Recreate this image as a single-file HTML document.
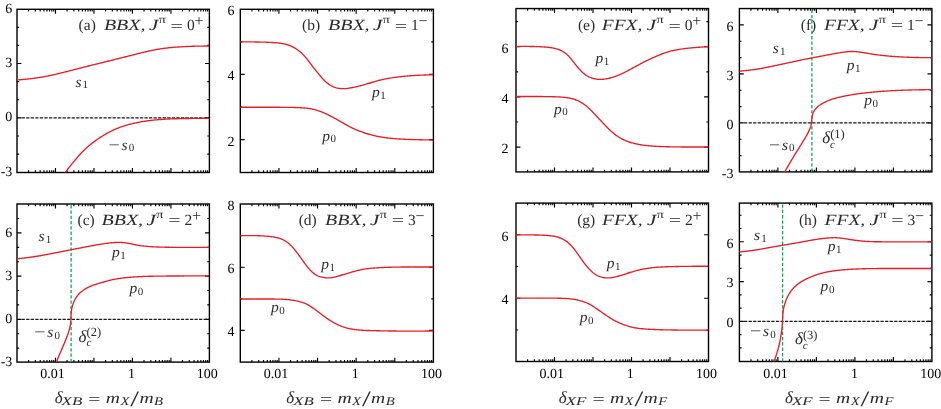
<!DOCTYPE html>
<html lang="en">
<head>
<meta charset="utf-8">
<title>Figure</title>
<style>html,body{margin:0;padding:0;background:#fff}svg{display:block;will-change:transform}</style>
</head>
<body>
<svg width="941" height="409" viewBox="0 0 941 409" font-family='"Liberation Serif", "DejaVu Serif", serif' text-rendering="geometricPrecision">
<rect width="941" height="409" fill="#fff"/>
<defs>
<clipPath id="ka"><rect x="17" y="9.3" width="192.4" height="163.2"/></clipPath>
<clipPath id="kb"><rect x="240.3" y="9.3" width="193.1" height="163.2"/></clipPath>
<clipPath id="ke"><rect x="516" y="8.55" width="192.5" height="163.35"/></clipPath>
<clipPath id="kf"><rect x="739.4" y="8.55" width="192.5" height="163.35"/></clipPath>
<clipPath id="kc"><rect x="17" y="204" width="192.4" height="158.1"/></clipPath>
<clipPath id="kd"><rect x="240.3" y="204" width="193.1" height="158.1"/></clipPath>
<clipPath id="kg"><rect x="516" y="203.1" width="192.5" height="158.4"/></clipPath>
<clipPath id="kh"><rect x="739.4" y="203.1" width="192.5" height="158.4"/></clipPath>
</defs>
<path d="M28.58 172.5L28.58 170.35M28.58 9.3L28.58 11.45M35.36 172.5L35.36 170.35M35.36 9.3L35.36 11.45M40.17 172.5L40.17 170.35M40.17 9.3L40.17 11.45M43.9 172.5L43.9 170.35M43.9 9.3L43.9 11.45M46.94 172.5L46.94 170.35M46.94 9.3L46.94 11.45M49.52 172.5L49.52 170.35M49.52 9.3L49.52 11.45M51.75 172.5L51.75 170.35M51.75 9.3L51.75 11.45M53.72 172.5L53.72 170.35M53.72 9.3L53.72 11.45M55.48 172.5L55.48 168.1M55.48 9.3L55.48 13.7M67.06 172.5L67.06 170.35M67.06 9.3L67.06 11.45M73.84 172.5L73.84 170.35M73.84 9.3L73.84 11.45M78.65 172.5L78.65 170.35M78.65 9.3L78.65 11.45M82.38 172.5L82.38 170.35M82.38 9.3L82.38 11.45M85.42 172.5L85.42 170.35M85.42 9.3L85.42 11.45M88 172.5L88 170.35M88 9.3L88 11.45M90.23 172.5L90.23 170.35M90.23 9.3L90.23 11.45M92.2 172.5L92.2 170.35M92.2 9.3L92.2 11.45M93.96 172.5L93.96 168.1M93.96 9.3L93.96 13.7M105.54 172.5L105.54 170.35M105.54 9.3L105.54 11.45M112.32 172.5L112.32 170.35M112.32 9.3L112.32 11.45M117.13 172.5L117.13 170.35M117.13 9.3L117.13 11.45M120.86 172.5L120.86 170.35M120.86 9.3L120.86 11.45M123.9 172.5L123.9 170.35M123.9 9.3L123.9 11.45M126.48 172.5L126.48 170.35M126.48 9.3L126.48 11.45M128.71 172.5L128.71 170.35M128.71 9.3L128.71 11.45M130.68 172.5L130.68 170.35M130.68 9.3L130.68 11.45M132.44 172.5L132.44 168.1M132.44 9.3L132.44 13.7M144.02 172.5L144.02 170.35M144.02 9.3L144.02 11.45M150.8 172.5L150.8 170.35M150.8 9.3L150.8 11.45M155.61 172.5L155.61 170.35M155.61 9.3L155.61 11.45M159.34 172.5L159.34 170.35M159.34 9.3L159.34 11.45M162.38 172.5L162.38 170.35M162.38 9.3L162.38 11.45M164.96 172.5L164.96 170.35M164.96 9.3L164.96 11.45M167.19 172.5L167.19 170.35M167.19 9.3L167.19 11.45M169.16 172.5L169.16 170.35M169.16 9.3L169.16 11.45M170.92 172.5L170.92 168.1M170.92 9.3L170.92 13.7M182.5 172.5L182.5 170.35M182.5 9.3L182.5 11.45M189.28 172.5L189.28 170.35M189.28 9.3L189.28 11.45M194.09 172.5L194.09 170.35M194.09 9.3L194.09 11.45M197.82 172.5L197.82 170.35M197.82 9.3L197.82 11.45M200.86 172.5L200.86 170.35M200.86 9.3L200.86 11.45M203.44 172.5L203.44 170.35M203.44 9.3L203.44 11.45M205.67 172.5L205.67 170.35M205.67 9.3L205.67 11.45M207.64 172.5L207.64 170.35M207.64 9.3L207.64 11.45M17 63.53L21.4 63.53M209.4 63.53L205 63.53M17 117.86L21.4 117.86M209.4 117.86L205 117.86M17 154.08L19.15 154.08M209.4 154.08L207.25 154.08M17 135.97L19.15 135.97M209.4 135.97L207.25 135.97M17 117.86L19.15 117.86M209.4 117.86L207.25 117.86M17 99.75L19.15 99.75M209.4 99.75L207.25 99.75M17 81.64L19.15 81.64M209.4 81.64L207.25 81.64M17 63.53L19.15 63.53M209.4 63.53L207.25 63.53M17 45.42L19.15 45.42M209.4 45.42L207.25 45.42M17 27.31L19.15 27.31M209.4 27.31L207.25 27.31" stroke="#000" stroke-width="1.15" fill="none"/>
<rect x="17" y="9.3" width="192.4" height="163.2" fill="none" stroke="#000" stroke-width="1.4"/>
<text x="12.3" y="12.8" font-size="14" text-anchor="end" fill="#000">6</text>
<text x="12.3" y="67.13" font-size="14" text-anchor="end" fill="#000">3</text>
<text x="12.3" y="121.46" font-size="14" text-anchor="end" fill="#000">0</text>
<text x="12.3" y="175.79" font-size="14" text-anchor="end" fill="#000">-3</text>
<path d="M21.6 117.86H209.4" stroke="#1a1a1a" stroke-width="1.25" stroke-dasharray="3.3 1.25" fill="none"/>
<path d="M17.00 80.00 L17.83 79.93 L18.66 79.86 L19.48 79.78 L20.31 79.71 L21.14 79.64 L21.97 79.56 L22.80 79.49 L23.62 79.41 L24.45 79.33 L25.28 79.25 L26.10 79.17 L26.93 79.09 L27.76 79.00 L28.58 78.92 L29.41 78.83 L30.24 78.74 L31.06 78.64 L31.89 78.55 L32.71 78.45 L33.53 78.34 L34.36 78.24 L35.18 78.13 L36.00 78.02 L36.82 77.90 L37.65 77.78 L38.47 77.65 L39.29 77.53 L40.11 77.39 L40.93 77.26 L41.74 77.12 L42.56 76.98 L43.38 76.83 L44.20 76.68 L45.01 76.53 L45.83 76.37 L46.65 76.21 L47.46 76.05 L48.28 75.89 L49.09 75.72 L49.90 75.55 L50.72 75.38 L51.53 75.20 L52.34 75.02 L53.15 74.84 L53.96 74.66 L54.77 74.48 L55.58 74.29 L56.39 74.10 L57.20 73.91 L58.01 73.72 L58.82 73.53 L59.63 73.33 L60.43 73.14 L61.24 72.94 L62.05 72.74 L62.85 72.54 L63.66 72.34 L64.47 72.13 L65.27 71.93 L66.08 71.73 L66.88 71.52 L67.69 71.32 L68.49 71.11 L69.29 70.90 L70.10 70.69 L70.90 70.49 L71.71 70.28 L72.51 70.07 L73.31 69.86 L74.12 69.65 L74.92 69.45 L75.73 69.24 L76.53 69.03 L77.34 68.82 L78.14 68.62 L78.94 68.41 L79.75 68.21 L80.55 68.00 L81.36 67.80 L82.16 67.59 L82.97 67.39 L83.78 67.19 L84.58 66.99 L85.39 66.78 L86.19 66.58 L87.00 66.38 L87.80 66.18 L88.61 65.98 L89.42 65.78 L90.22 65.58 L91.03 65.38 L91.84 65.18 L92.64 64.99 L93.45 64.79 L94.26 64.59 L95.06 64.39 L95.87 64.19 L96.68 63.99 L97.48 63.80 L98.29 63.60 L99.10 63.40 L99.90 63.20 L100.71 63.01 L101.52 62.81 L102.32 62.61 L103.13 62.41 L103.94 62.21 L104.74 62.02 L105.55 61.82 L106.36 61.62 L107.16 61.42 L107.97 61.22 L108.78 61.02 L109.58 60.83 L110.39 60.63 L111.20 60.43 L112.00 60.23 L112.81 60.03 L113.61 59.83 L114.42 59.63 L115.23 59.42 L116.03 59.22 L116.84 59.02 L117.64 58.82 L118.45 58.62 L119.25 58.41 L120.06 58.21 L120.86 58.00 L121.67 57.80 L122.47 57.60 L123.28 57.39 L124.08 57.18 L124.89 56.98 L125.69 56.77 L126.50 56.57 L127.30 56.36 L128.10 56.15 L128.91 55.95 L129.71 55.74 L130.52 55.54 L131.32 55.33 L132.13 55.13 L132.93 54.92 L133.74 54.72 L134.54 54.51 L135.35 54.31 L136.15 54.11 L136.96 53.90 L137.77 53.70 L138.57 53.50 L139.38 53.30 L140.19 53.10 L140.99 52.91 L141.80 52.71 L142.61 52.51 L143.42 52.32 L144.23 52.13 L145.04 51.93 L145.85 51.74 L146.65 51.56 L147.47 51.37 L148.28 51.19 L149.09 51.01 L149.90 50.83 L150.71 50.66 L151.52 50.48 L152.34 50.32 L153.15 50.15 L153.97 49.99 L154.78 49.83 L155.60 49.67 L156.41 49.52 L157.23 49.38 L158.05 49.23 L158.87 49.09 L159.69 48.96 L160.51 48.83 L161.33 48.70 L162.15 48.58 L162.97 48.47 L163.79 48.36 L164.62 48.25 L165.44 48.15 L166.27 48.05 L167.09 47.96 L167.92 47.87 L168.74 47.78 L169.57 47.69 L170.40 47.61 L171.23 47.54 L172.05 47.46 L172.88 47.39 L173.71 47.32 L174.54 47.26 L175.37 47.19 L176.20 47.13 L177.03 47.07 L177.86 47.02 L178.68 46.96 L179.51 46.91 L180.34 46.86 L181.17 46.81 L182.00 46.76 L182.83 46.71 L183.66 46.67 L184.49 46.62 L185.32 46.58 L186.15 46.54 L186.98 46.50 L187.81 46.46 L188.64 46.42 L189.47 46.39 L190.30 46.36 L191.13 46.32 L191.96 46.29 L192.79 46.27 L193.62 46.24 L194.45 46.22 L195.28 46.19 L196.11 46.17 L196.94 46.15 L197.77 46.14 L198.60 46.12 L199.43 46.10 L200.26 46.09 L201.09 46.08 L201.92 46.07 L202.75 46.06 L203.59 46.05 L204.42 46.04 L205.25 46.03 L206.08 46.03 L206.91 46.02 L207.74 46.01 L208.57 46.01 L209.40 46.00" fill="none" stroke="#ee1c25" stroke-width="1.35" stroke-linejoin="round" clip-path="url(#ka)"/>
<path d="M63.00 176.00 L63.46 175.31 L63.93 174.62 L64.40 173.93 L64.87 173.24 L65.34 172.56 L65.82 171.88 L66.30 171.20 L66.79 170.53 L67.29 169.86 L67.78 169.19 L68.28 168.53 L68.79 167.87 L69.30 167.21 L69.81 166.55 L70.33 165.90 L70.85 165.25 L71.37 164.60 L71.89 163.95 L72.42 163.31 L72.95 162.67 L73.48 162.02 L74.01 161.38 L74.55 160.74 L75.08 160.10 L75.62 159.47 L76.16 158.83 L76.70 158.20 L77.24 157.56 L77.79 156.93 L78.34 156.31 L78.89 155.68 L79.45 155.06 L80.00 154.44 L80.57 153.83 L81.13 153.22 L81.70 152.62 L82.28 152.01 L82.86 151.42 L83.44 150.83 L84.04 150.24 L84.63 149.66 L85.23 149.09 L85.84 148.52 L86.45 147.96 L87.07 147.40 L87.70 146.85 L88.33 146.31 L88.96 145.77 L89.60 145.24 L90.24 144.71 L90.89 144.18 L91.54 143.67 L92.20 143.15 L92.86 142.65 L93.53 142.14 L94.20 141.64 L94.87 141.15 L95.55 140.66 L96.22 140.18 L96.91 139.70 L97.59 139.22 L98.28 138.75 L98.97 138.28 L99.67 137.82 L100.37 137.36 L101.07 136.91 L101.77 136.46 L102.47 136.01 L103.18 135.57 L103.89 135.14 L104.61 134.71 L105.33 134.28 L106.05 133.86 L106.77 133.45 L107.50 133.05 L108.23 132.64 L108.96 132.25 L109.70 131.86 L110.44 131.48 L111.18 131.11 L111.93 130.74 L112.68 130.38 L113.43 130.03 L114.19 129.69 L114.95 129.35 L115.71 129.02 L116.48 128.70 L117.25 128.39 L118.03 128.08 L118.80 127.78 L119.58 127.49 L120.37 127.20 L121.15 126.92 L121.94 126.65 L122.73 126.38 L123.52 126.12 L124.31 125.87 L125.11 125.62 L125.91 125.38 L126.71 125.14 L127.51 124.91 L128.31 124.69 L129.12 124.47 L129.92 124.25 L130.73 124.04 L131.54 123.84 L132.34 123.64 L133.15 123.45 L133.97 123.26 L134.78 123.08 L135.59 122.90 L136.41 122.73 L137.22 122.56 L138.04 122.40 L138.86 122.24 L139.67 122.08 L140.49 121.93 L141.31 121.79 L142.13 121.65 L142.95 121.51 L143.78 121.38 L144.60 121.25 L145.42 121.13 L146.25 121.01 L147.07 120.90 L147.90 120.79 L148.72 120.68 L149.55 120.57 L150.37 120.47 L151.20 120.38 L152.03 120.29 L152.86 120.20 L153.68 120.11 L154.51 120.03 L155.34 119.95 L156.17 119.87 L157.00 119.80 L157.83 119.72 L158.66 119.66 L159.49 119.59 L160.32 119.53 L161.15 119.47 L161.98 119.41 L162.81 119.35 L163.64 119.30 L164.47 119.25 L165.30 119.20 L166.13 119.15 L166.96 119.11 L167.80 119.07 L168.63 119.03 L169.46 118.99 L170.29 118.95 L171.12 118.92 L171.95 118.88 L172.78 118.85 L173.62 118.82 L174.45 118.79 L175.28 118.76 L176.11 118.74 L176.94 118.71 L177.78 118.69 L178.61 118.67 L179.44 118.64 L180.27 118.62 L181.10 118.60 L181.94 118.59 L182.77 118.57 L183.60 118.55 L184.43 118.54 L185.27 118.52 L186.10 118.51 L186.93 118.49 L187.76 118.48 L188.59 118.47 L189.43 118.45 L190.26 118.44 L191.09 118.43 L191.92 118.42 L192.75 118.41 L193.59 118.40 L194.42 118.40 L195.25 118.39 L196.08 118.38 L196.92 118.37 L197.75 118.37 L198.58 118.36 L199.41 118.35 L200.25 118.35 L201.08 118.34 L201.91 118.34 L202.74 118.33 L203.57 118.33 L204.41 118.32 L205.24 118.32 L206.07 118.32 L206.90 118.31 L207.74 118.31 L208.57 118.30 L209.40 118.30" fill="none" stroke="#ee1c25" stroke-width="1.35" stroke-linejoin="round" clip-path="url(#ka)"/>
<text x="78.6" y="30.3" font-size="15.5" text-anchor="start" fill="#2b2b2b">(a)</text>
<text x="103.9" y="30.3" font-size="15.5" font-style="italic" text-anchor="start" fill="#2b2b2b" textLength="41.6" lengthAdjust="spacingAndGlyphs">BBX,</text>
<text x="148.9" y="30.3" font-size="15.5" font-style="italic" text-anchor="start" fill="#2b2b2b" textLength="9.4" lengthAdjust="spacingAndGlyphs">J</text>
<text x="158.7" y="23.1" font-size="11.5" text-anchor="start" fill="#2b2b2b" textLength="7.2" lengthAdjust="spacingAndGlyphs">π</text>
<text x="170.6" y="30.7" font-size="15.5" text-anchor="start" fill="#2b2b2b" textLength="12.4" lengthAdjust="spacingAndGlyphs">=</text>
<text x="186.9" y="30.3" font-size="15.5" text-anchor="start" fill="#2b2b2b">0</text>
<text x="194.4" y="26.3" font-size="16" text-anchor="start" fill="#2b2b2b">+</text>
<text x="75.4" y="86.6" font-size="15.5" font-style="italic" text-anchor="start" fill="#2b2b2b">s</text>
<text x="82.6" y="88.4" font-size="11" text-anchor="start" fill="#2b2b2b">1</text>
<text x="108.6" y="149.5" font-size="15.5" text-anchor="start" fill="#2b2b2b" textLength="11.3" lengthAdjust="spacingAndGlyphs">−</text>
<text x="121.5" y="149.5" font-size="15.5" font-style="italic" text-anchor="start" fill="#2b2b2b">s</text>
<text x="128.7" y="151.3" font-size="11" text-anchor="start" fill="#2b2b2b">0</text>
<path d="M251.93 172.5L251.93 170.35M251.93 9.3L251.93 11.45M258.73 172.5L258.73 170.35M258.73 9.3L258.73 11.45M263.55 172.5L263.55 170.35M263.55 9.3L263.55 11.45M267.29 172.5L267.29 170.35M267.29 9.3L267.29 11.45M270.35 172.5L270.35 170.35M270.35 9.3L270.35 11.45M272.94 172.5L272.94 170.35M272.94 9.3L272.94 11.45M275.18 172.5L275.18 170.35M275.18 9.3L275.18 11.45M277.15 172.5L277.15 170.35M277.15 9.3L277.15 11.45M278.92 172.5L278.92 168.1M278.92 9.3L278.92 13.7M290.55 172.5L290.55 170.35M290.55 9.3L290.55 11.45M297.35 172.5L297.35 170.35M297.35 9.3L297.35 11.45M302.17 172.5L302.17 170.35M302.17 9.3L302.17 11.45M305.91 172.5L305.91 170.35M305.91 9.3L305.91 11.45M308.97 172.5L308.97 170.35M308.97 9.3L308.97 11.45M311.56 172.5L311.56 170.35M311.56 9.3L311.56 11.45M313.8 172.5L313.8 170.35M313.8 9.3L313.8 11.45M315.77 172.5L315.77 170.35M315.77 9.3L315.77 11.45M317.54 172.5L317.54 168.1M317.54 9.3L317.54 13.7M329.17 172.5L329.17 170.35M329.17 9.3L329.17 11.45M335.97 172.5L335.97 170.35M335.97 9.3L335.97 11.45M340.79 172.5L340.79 170.35M340.79 9.3L340.79 11.45M344.53 172.5L344.53 170.35M344.53 9.3L344.53 11.45M347.59 172.5L347.59 170.35M347.59 9.3L347.59 11.45M350.18 172.5L350.18 170.35M350.18 9.3L350.18 11.45M352.42 172.5L352.42 170.35M352.42 9.3L352.42 11.45M354.39 172.5L354.39 170.35M354.39 9.3L354.39 11.45M356.16 172.5L356.16 168.1M356.16 9.3L356.16 13.7M367.79 172.5L367.79 170.35M367.79 9.3L367.79 11.45M374.59 172.5L374.59 170.35M374.59 9.3L374.59 11.45M379.41 172.5L379.41 170.35M379.41 9.3L379.41 11.45M383.15 172.5L383.15 170.35M383.15 9.3L383.15 11.45M386.21 172.5L386.21 170.35M386.21 9.3L386.21 11.45M388.8 172.5L388.8 170.35M388.8 9.3L388.8 11.45M391.04 172.5L391.04 170.35M391.04 9.3L391.04 11.45M393.01 172.5L393.01 170.35M393.01 9.3L393.01 11.45M394.78 172.5L394.78 168.1M394.78 9.3L394.78 13.7M406.41 172.5L406.41 170.35M406.41 9.3L406.41 11.45M413.21 172.5L413.21 170.35M413.21 9.3L413.21 11.45M418.03 172.5L418.03 170.35M418.03 9.3L418.03 11.45M421.77 172.5L421.77 170.35M421.77 9.3L421.77 11.45M424.83 172.5L424.83 170.35M424.83 9.3L424.83 11.45M427.42 172.5L427.42 170.35M427.42 9.3L427.42 11.45M429.66 172.5L429.66 170.35M429.66 9.3L429.66 11.45M431.63 172.5L431.63 170.35M431.63 9.3L431.63 11.45M240.3 74.4L244.7 74.4M433.4 74.4L429 74.4M240.3 139.6L244.7 139.6M433.4 139.6L429 139.6M240.3 139.6L242.45 139.6M433.4 139.6L431.25 139.6M240.3 107L242.45 107M433.4 107L431.25 107M240.3 74.4L242.45 74.4M433.4 74.4L431.25 74.4M240.3 41.8L242.45 41.8M433.4 41.8L431.25 41.8" stroke="#000" stroke-width="1.15" fill="none"/>
<rect x="240.3" y="9.3" width="193.1" height="163.2" fill="none" stroke="#000" stroke-width="1.4"/>
<text x="234.6" y="15.1" font-size="14" text-anchor="end" fill="#000">6</text>
<text x="234.6" y="80.3" font-size="14" text-anchor="end" fill="#000">4</text>
<text x="234.6" y="145.5" font-size="14" text-anchor="end" fill="#000">2</text>
<path d="M240.00 41.85 L240.83 41.85 L241.67 41.86 L242.50 41.86 L243.33 41.87 L244.17 41.87 L245.00 41.88 L245.83 41.88 L246.67 41.89 L247.50 41.89 L248.33 41.90 L249.17 41.90 L250.00 41.91 L250.83 41.92 L251.67 41.93 L252.50 41.94 L253.33 41.94 L254.16 41.95 L255.00 41.97 L255.83 41.98 L256.66 41.99 L257.50 42.00 L258.33 42.02 L259.16 42.03 L259.99 42.05 L260.83 42.07 L261.66 42.09 L262.49 42.11 L263.32 42.13 L264.15 42.15 L264.99 42.18 L265.82 42.20 L266.65 42.23 L267.48 42.27 L268.31 42.30 L269.15 42.34 L269.98 42.38 L270.81 42.43 L271.64 42.48 L272.47 42.53 L273.31 42.59 L274.14 42.65 L274.97 42.72 L275.80 42.79 L276.63 42.86 L277.47 42.95 L278.30 43.03 L279.13 43.13 L279.96 43.23 L280.79 43.34 L281.61 43.46 L282.44 43.60 L283.26 43.75 L284.07 43.91 L284.89 44.09 L285.70 44.28 L286.50 44.50 L287.30 44.73 L288.09 44.98 L288.88 45.26 L289.66 45.55 L290.44 45.86 L291.21 46.19 L291.97 46.54 L292.72 46.91 L293.46 47.29 L294.19 47.69 L294.92 48.11 L295.63 48.54 L296.34 48.99 L297.03 49.46 L297.72 49.94 L298.39 50.44 L299.05 50.95 L299.70 51.47 L300.34 52.01 L300.97 52.55 L301.59 53.12 L302.20 53.69 L302.80 54.27 L303.38 54.87 L303.96 55.47 L304.52 56.09 L305.07 56.71 L305.61 57.34 L306.15 57.98 L306.67 58.63 L307.19 59.28 L307.71 59.93 L308.22 60.60 L308.72 61.26 L309.22 61.92 L309.72 62.59 L310.22 63.26 L310.72 63.93 L311.22 64.60 L311.72 65.26 L312.22 65.93 L312.73 66.59 L313.24 67.25 L313.75 67.90 L314.26 68.56 L314.78 69.21 L315.30 69.86 L315.82 70.51 L316.34 71.16 L316.87 71.80 L317.39 72.45 L317.92 73.09 L318.46 73.74 L318.99 74.38 L319.53 75.02 L320.06 75.66 L320.61 76.30 L321.15 76.94 L321.70 77.57 L322.25 78.20 L322.81 78.82 L323.38 79.44 L323.95 80.04 L324.54 80.64 L325.13 81.22 L325.74 81.79 L326.36 82.35 L326.99 82.89 L327.64 83.41 L328.31 83.91 L328.99 84.39 L329.69 84.84 L330.41 85.28 L331.14 85.69 L331.88 86.08 L332.64 86.44 L333.40 86.78 L334.18 87.10 L334.97 87.38 L335.77 87.64 L336.57 87.87 L337.38 88.07 L338.20 88.24 L339.03 88.39 L339.85 88.51 L340.68 88.60 L341.51 88.66 L342.35 88.69 L343.18 88.70 L344.01 88.69 L344.84 88.65 L345.68 88.59 L346.51 88.51 L347.33 88.41 L348.16 88.30 L348.99 88.17 L349.81 88.04 L350.64 87.90 L351.46 87.75 L352.28 87.59 L353.10 87.43 L353.92 87.27 L354.73 87.09 L355.55 86.92 L356.36 86.74 L357.17 86.55 L357.98 86.36 L358.79 86.16 L359.60 85.96 L360.41 85.75 L361.21 85.54 L362.02 85.33 L362.82 85.11 L363.62 84.88 L364.42 84.65 L365.22 84.42 L366.02 84.19 L366.82 83.95 L367.62 83.71 L368.42 83.47 L369.21 83.23 L370.01 82.99 L370.81 82.75 L371.61 82.51 L372.41 82.27 L373.20 82.03 L374.00 81.79 L374.80 81.56 L375.60 81.33 L376.41 81.10 L377.21 80.88 L378.01 80.66 L378.82 80.45 L379.62 80.24 L380.43 80.04 L381.24 79.85 L382.05 79.66 L382.87 79.48 L383.68 79.30 L384.50 79.13 L385.31 78.96 L386.13 78.80 L386.95 78.64 L387.77 78.49 L388.59 78.34 L389.41 78.20 L390.23 78.06 L391.06 77.93 L391.88 77.80 L392.70 77.68 L393.53 77.55 L394.36 77.44 L395.18 77.32 L396.01 77.21 L396.83 77.11 L397.66 77.00 L398.49 76.90 L399.32 76.80 L400.15 76.71 L400.97 76.62 L401.80 76.53 L402.63 76.44 L403.46 76.36 L404.29 76.28 L405.12 76.20 L405.95 76.13 L406.78 76.06 L407.61 75.99 L408.44 75.92 L409.27 75.86 L410.10 75.79 L410.93 75.73 L411.76 75.68 L412.59 75.62 L413.43 75.57 L414.26 75.51 L415.09 75.47 L415.92 75.42 L416.75 75.37 L417.58 75.33 L418.42 75.28 L419.25 75.24 L420.08 75.20 L420.91 75.17 L421.74 75.13 L422.58 75.09 L423.41 75.06 L424.24 75.03 L425.07 74.99 L425.91 74.96 L426.74 74.93 L427.57 74.90 L428.40 74.87 L429.24 74.84 L430.07 74.81 L430.90 74.78 L431.73 74.76 L432.57 74.73 L433.40 74.70" fill="none" stroke="#ee1c25" stroke-width="1.35" stroke-linejoin="round" clip-path="url(#kb)"/>
<path d="M240.00 107.20 L240.83 107.20 L241.66 107.20 L242.49 107.20 L243.32 107.20 L244.16 107.21 L244.99 107.21 L245.82 107.21 L246.65 107.21 L247.48 107.21 L248.31 107.21 L249.14 107.21 L249.97 107.21 L250.80 107.21 L251.64 107.22 L252.47 107.22 L253.30 107.22 L254.13 107.22 L254.96 107.22 L255.79 107.22 L256.62 107.22 L257.45 107.23 L258.28 107.23 L259.12 107.23 L259.95 107.23 L260.78 107.23 L261.61 107.23 L262.44 107.24 L263.27 107.24 L264.10 107.24 L264.93 107.24 L265.76 107.24 L266.60 107.25 L267.43 107.25 L268.26 107.25 L269.09 107.25 L269.92 107.26 L270.75 107.26 L271.58 107.26 L272.41 107.26 L273.24 107.27 L274.07 107.27 L274.91 107.27 L275.74 107.28 L276.57 107.28 L277.40 107.28 L278.23 107.29 L279.06 107.29 L279.89 107.29 L280.72 107.30 L281.55 107.30 L282.38 107.31 L283.21 107.31 L284.05 107.32 L284.88 107.32 L285.71 107.33 L286.54 107.34 L287.37 107.34 L288.20 107.35 L289.03 107.36 L289.86 107.38 L290.69 107.39 L291.52 107.41 L292.35 107.43 L293.18 107.45 L294.01 107.47 L294.85 107.49 L295.68 107.52 L296.51 107.55 L297.34 107.58 L298.17 107.62 L299.00 107.66 L299.83 107.70 L300.66 107.74 L301.49 107.79 L302.32 107.85 L303.15 107.90 L303.98 107.97 L304.81 108.03 L305.64 108.11 L306.47 108.19 L307.30 108.29 L308.12 108.39 L308.95 108.50 L309.77 108.62 L310.59 108.76 L311.40 108.90 L312.22 109.06 L313.03 109.24 L313.84 109.43 L314.65 109.63 L315.45 109.84 L316.25 110.07 L317.05 110.31 L317.84 110.56 L318.64 110.82 L319.42 111.09 L320.21 111.37 L320.99 111.67 L321.76 111.97 L322.54 112.28 L323.30 112.59 L324.07 112.92 L324.83 113.26 L325.59 113.60 L326.34 113.95 L327.10 114.30 L327.84 114.66 L328.59 115.03 L329.33 115.40 L330.07 115.78 L330.81 116.16 L331.55 116.55 L332.28 116.94 L333.01 117.33 L333.75 117.73 L334.47 118.13 L335.20 118.53 L335.93 118.93 L336.65 119.34 L337.37 119.75 L338.10 120.16 L338.82 120.57 L339.54 120.98 L340.26 121.40 L340.98 121.81 L341.70 122.23 L342.42 122.64 L343.14 123.06 L343.87 123.47 L344.59 123.88 L345.31 124.29 L346.04 124.70 L346.76 125.11 L347.49 125.51 L348.22 125.91 L348.95 126.30 L349.68 126.69 L350.42 127.08 L351.16 127.45 L351.91 127.82 L352.65 128.18 L353.41 128.54 L354.16 128.88 L354.92 129.22 L355.68 129.55 L356.45 129.87 L357.22 130.19 L357.99 130.50 L358.77 130.80 L359.54 131.09 L360.32 131.38 L361.10 131.67 L361.89 131.95 L362.67 132.22 L363.46 132.49 L364.25 132.75 L365.04 133.01 L365.83 133.27 L366.63 133.52 L367.42 133.76 L368.22 134.00 L369.02 134.23 L369.82 134.46 L370.62 134.68 L371.42 134.90 L372.22 135.11 L373.03 135.31 L373.84 135.51 L374.65 135.70 L375.46 135.89 L376.27 136.07 L377.08 136.24 L377.89 136.41 L378.71 136.57 L379.53 136.72 L380.35 136.87 L381.16 137.01 L381.98 137.15 L382.81 137.28 L383.63 137.40 L384.45 137.52 L385.27 137.64 L386.10 137.75 L386.92 137.86 L387.75 137.96 L388.58 138.05 L389.40 138.15 L390.23 138.23 L391.06 138.32 L391.88 138.40 L392.71 138.48 L393.54 138.55 L394.37 138.62 L395.20 138.69 L396.03 138.75 L396.85 138.81 L397.68 138.87 L398.51 138.92 L399.34 138.97 L400.17 139.02 L401.00 139.07 L401.83 139.11 L402.66 139.15 L403.49 139.20 L404.32 139.23 L405.15 139.27 L405.98 139.31 L406.81 139.34 L407.64 139.37 L408.48 139.40 L409.31 139.43 L410.14 139.46 L410.97 139.49 L411.80 139.52 L412.63 139.54 L413.46 139.57 L414.29 139.59 L415.12 139.62 L415.95 139.64 L416.78 139.66 L417.61 139.68 L418.44 139.70 L419.27 139.72 L420.11 139.74 L420.94 139.76 L421.77 139.78 L422.60 139.80 L423.43 139.82 L424.26 139.83 L425.09 139.85 L425.92 139.86 L426.75 139.88 L427.58 139.90 L428.41 139.91 L429.25 139.93 L430.08 139.94 L430.91 139.96 L431.74 139.97 L432.57 139.99 L433.40 140.00" fill="none" stroke="#ee1c25" stroke-width="1.35" stroke-linejoin="round" clip-path="url(#kb)"/>
<text x="302" y="30.1" font-size="15.5" text-anchor="start" fill="#2b2b2b">(b)</text>
<text x="328" y="30.1" font-size="15.5" font-style="italic" text-anchor="start" fill="#2b2b2b" textLength="41.6" lengthAdjust="spacingAndGlyphs">BBX,</text>
<text x="373" y="30.1" font-size="15.5" font-style="italic" text-anchor="start" fill="#2b2b2b" textLength="9.4" lengthAdjust="spacingAndGlyphs">J</text>
<text x="382.8" y="22.9" font-size="11.5" text-anchor="start" fill="#2b2b2b" textLength="7.2" lengthAdjust="spacingAndGlyphs">π</text>
<text x="394.7" y="30.5" font-size="15.5" text-anchor="start" fill="#2b2b2b" textLength="12.4" lengthAdjust="spacingAndGlyphs">=</text>
<text x="411" y="30.1" font-size="15.5" text-anchor="start" fill="#2b2b2b">1</text>
<text x="418.5" y="26.1" font-size="16" text-anchor="start" fill="#2b2b2b">−</text>
<text x="371.9" y="96.7" font-size="15.5" font-style="italic" text-anchor="start" fill="#2b2b2b">p</text>
<text x="380.2" y="98.5" font-size="11" text-anchor="start" fill="#2b2b2b">1</text>
<text x="322.2" y="140.6" font-size="15.5" font-style="italic" text-anchor="start" fill="#2b2b2b">p</text>
<text x="330.5" y="142.4" font-size="11" text-anchor="start" fill="#2b2b2b">0</text>
<path d="M527.59 171.9L527.59 169.75M527.59 8.55L527.59 10.7M534.37 171.9L534.37 169.75M534.37 8.55L534.37 10.7M539.18 171.9L539.18 169.75M539.18 8.55L539.18 10.7M542.91 171.9L542.91 169.75M542.91 8.55L542.91 10.7M545.96 171.9L545.96 169.75M545.96 8.55L545.96 10.7M548.54 171.9L548.54 169.75M548.54 8.55L548.54 10.7M550.77 171.9L550.77 169.75M550.77 8.55L550.77 10.7M552.74 171.9L552.74 169.75M552.74 8.55L552.74 10.7M554.5 171.9L554.5 167.5M554.5 8.55L554.5 12.95M566.09 171.9L566.09 169.75M566.09 8.55L566.09 10.7M572.87 171.9L572.87 169.75M572.87 8.55L572.87 10.7M577.68 171.9L577.68 169.75M577.68 8.55L577.68 10.7M581.41 171.9L581.41 169.75M581.41 8.55L581.41 10.7M584.46 171.9L584.46 169.75M584.46 8.55L584.46 10.7M587.04 171.9L587.04 169.75M587.04 8.55L587.04 10.7M589.27 171.9L589.27 169.75M589.27 8.55L589.27 10.7M591.24 171.9L591.24 169.75M591.24 8.55L591.24 10.7M593 171.9L593 167.5M593 8.55L593 12.95M604.59 171.9L604.59 169.75M604.59 8.55L604.59 10.7M611.37 171.9L611.37 169.75M611.37 8.55L611.37 10.7M616.18 171.9L616.18 169.75M616.18 8.55L616.18 10.7M619.91 171.9L619.91 169.75M619.91 8.55L619.91 10.7M622.96 171.9L622.96 169.75M622.96 8.55L622.96 10.7M625.54 171.9L625.54 169.75M625.54 8.55L625.54 10.7M627.77 171.9L627.77 169.75M627.77 8.55L627.77 10.7M629.74 171.9L629.74 169.75M629.74 8.55L629.74 10.7M631.5 171.9L631.5 167.5M631.5 8.55L631.5 12.95M643.09 171.9L643.09 169.75M643.09 8.55L643.09 10.7M649.87 171.9L649.87 169.75M649.87 8.55L649.87 10.7M654.68 171.9L654.68 169.75M654.68 8.55L654.68 10.7M658.41 171.9L658.41 169.75M658.41 8.55L658.41 10.7M661.46 171.9L661.46 169.75M661.46 8.55L661.46 10.7M664.04 171.9L664.04 169.75M664.04 8.55L664.04 10.7M666.27 171.9L666.27 169.75M666.27 8.55L666.27 10.7M668.24 171.9L668.24 169.75M668.24 8.55L668.24 10.7M670 171.9L670 167.5M670 8.55L670 12.95M681.59 171.9L681.59 169.75M681.59 8.55L681.59 10.7M688.37 171.9L688.37 169.75M688.37 8.55L688.37 10.7M693.18 171.9L693.18 169.75M693.18 8.55L693.18 10.7M696.91 171.9L696.91 169.75M696.91 8.55L696.91 10.7M699.96 171.9L699.96 169.75M699.96 8.55L699.96 10.7M702.54 171.9L702.54 169.75M702.54 8.55L702.54 10.7M704.77 171.9L704.77 169.75M704.77 8.55L704.77 10.7M706.74 171.9L706.74 169.75M706.74 8.55L706.74 10.7M516 46.7L520.4 46.7M708.5 46.7L704.1 46.7M516 96.9L520.4 96.9M708.5 96.9L704.1 96.9M516 147.1L520.4 147.1M708.5 147.1L704.1 147.1M516 147.1L518.15 147.1M708.5 147.1L706.35 147.1M516 122L518.15 122M708.5 122L706.35 122M516 96.9L518.15 96.9M708.5 96.9L706.35 96.9M516 71.8L518.15 71.8M708.5 71.8L706.35 71.8M516 46.7L518.15 46.7M708.5 46.7L706.35 46.7M516 21.6L518.15 21.6M708.5 21.6L706.35 21.6" stroke="#000" stroke-width="1.15" fill="none"/>
<rect x="516" y="8.55" width="192.5" height="163.35" fill="none" stroke="#000" stroke-width="1.4"/>
<text x="508.4" y="52.6" font-size="14" text-anchor="end" fill="#000">6</text>
<text x="508.4" y="102.8" font-size="14" text-anchor="end" fill="#000">4</text>
<text x="508.4" y="153" font-size="14" text-anchor="end" fill="#000">2</text>
<path d="M516.00 46.40 L516.83 46.40 L517.66 46.40 L518.49 46.40 L519.32 46.40 L520.16 46.40 L520.99 46.40 L521.82 46.40 L522.65 46.41 L523.48 46.41 L524.31 46.41 L525.14 46.42 L525.97 46.42 L526.80 46.43 L527.64 46.44 L528.47 46.44 L529.30 46.45 L530.13 46.46 L530.96 46.48 L531.79 46.49 L532.62 46.51 L533.45 46.52 L534.28 46.54 L535.12 46.56 L535.95 46.58 L536.78 46.61 L537.61 46.63 L538.44 46.66 L539.27 46.70 L540.10 46.73 L540.93 46.77 L541.76 46.81 L542.59 46.86 L543.42 46.91 L544.25 46.97 L545.08 47.03 L545.91 47.10 L546.74 47.17 L547.56 47.25 L548.39 47.34 L549.22 47.44 L550.04 47.54 L550.87 47.65 L551.69 47.78 L552.51 47.92 L553.33 48.07 L554.14 48.23 L554.95 48.42 L555.76 48.62 L556.57 48.84 L557.37 49.08 L558.16 49.35 L558.95 49.64 L559.72 49.95 L560.49 50.28 L561.25 50.63 L562.00 51.01 L562.73 51.41 L563.45 51.84 L564.15 52.29 L564.83 52.76 L565.50 53.25 L566.14 53.77 L566.77 54.31 L567.38 54.87 L567.98 55.45 L568.56 56.04 L569.13 56.65 L569.68 57.27 L570.23 57.90 L570.77 58.54 L571.30 59.19 L571.82 59.85 L572.34 60.51 L572.85 61.17 L573.37 61.83 L573.88 62.49 L574.39 63.15 L574.91 63.81 L575.42 64.46 L575.94 65.12 L576.46 65.76 L576.99 66.41 L577.52 67.05 L578.05 67.68 L578.60 68.31 L579.15 68.93 L579.70 69.54 L580.27 70.15 L580.85 70.75 L581.43 71.34 L582.03 71.92 L582.64 72.49 L583.26 73.05 L583.90 73.59 L584.55 74.12 L585.21 74.63 L585.89 75.11 L586.58 75.57 L587.29 76.01 L588.01 76.41 L588.75 76.79 L589.51 77.13 L590.28 77.45 L591.06 77.74 L591.85 78.01 L592.65 78.25 L593.46 78.47 L594.27 78.66 L595.09 78.84 L595.91 78.99 L596.73 79.12 L597.56 79.23 L598.38 79.31 L599.21 79.37 L600.04 79.40 L600.87 79.40 L601.70 79.38 L602.53 79.33 L603.36 79.25 L604.19 79.16 L605.01 79.05 L605.84 78.91 L606.66 78.76 L607.48 78.60 L608.30 78.42 L609.11 78.23 L609.92 78.03 L610.73 77.82 L611.53 77.60 L612.33 77.37 L613.12 77.13 L613.92 76.87 L614.70 76.61 L615.49 76.34 L616.27 76.05 L617.05 75.76 L617.82 75.46 L618.59 75.14 L619.36 74.82 L620.12 74.49 L620.88 74.16 L621.64 73.81 L622.39 73.46 L623.14 73.10 L623.88 72.74 L624.63 72.37 L625.37 71.99 L626.11 71.61 L626.85 71.23 L627.59 70.84 L628.32 70.45 L629.05 70.05 L629.79 69.66 L630.52 69.26 L631.25 68.86 L631.98 68.47 L632.71 68.07 L633.44 67.67 L634.17 67.27 L634.90 66.87 L635.63 66.47 L636.36 66.08 L637.09 65.68 L637.82 65.29 L638.55 64.89 L639.29 64.50 L640.02 64.11 L640.75 63.72 L641.49 63.34 L642.23 62.95 L642.96 62.57 L643.70 62.19 L644.45 61.82 L645.19 61.45 L645.93 61.08 L646.68 60.71 L647.43 60.35 L648.18 59.99 L648.93 59.63 L649.68 59.28 L650.43 58.93 L651.19 58.58 L651.94 58.23 L652.70 57.89 L653.46 57.55 L654.22 57.21 L654.98 56.87 L655.74 56.54 L656.50 56.21 L657.27 55.88 L658.04 55.56 L658.80 55.24 L659.57 54.92 L660.35 54.61 L661.12 54.30 L661.90 54.00 L662.67 53.71 L663.45 53.42 L664.24 53.14 L665.02 52.86 L665.81 52.59 L666.60 52.34 L667.39 52.09 L668.18 51.85 L668.98 51.61 L669.78 51.39 L670.58 51.18 L671.39 50.97 L672.20 50.77 L673.01 50.58 L673.82 50.40 L674.63 50.23 L675.45 50.06 L676.26 49.90 L677.08 49.74 L677.90 49.60 L678.72 49.46 L679.54 49.32 L680.37 49.19 L681.19 49.07 L682.01 48.95 L682.83 48.83 L683.66 48.72 L684.48 48.62 L685.31 48.51 L686.13 48.42 L686.96 48.32 L687.79 48.23 L688.61 48.15 L689.44 48.06 L690.27 47.98 L691.09 47.91 L691.92 47.83 L692.75 47.76 L693.58 47.69 L694.41 47.62 L695.24 47.55 L696.06 47.48 L696.89 47.42 L697.72 47.35 L698.55 47.29 L699.38 47.23 L700.21 47.17 L701.04 47.11 L701.87 47.05 L702.70 46.99 L703.52 46.94 L704.35 46.88 L705.18 46.82 L706.01 46.77 L706.84 46.71 L707.67 46.66 L708.50 46.60" fill="none" stroke="#ee1c25" stroke-width="1.35" stroke-linejoin="round" clip-path="url(#ke)"/>
<path d="M516.00 96.50 L516.83 96.50 L517.66 96.50 L518.49 96.50 L519.32 96.49 L520.16 96.49 L520.99 96.49 L521.82 96.49 L522.65 96.49 L523.48 96.49 L524.31 96.49 L525.14 96.49 L525.97 96.49 L526.80 96.49 L527.63 96.49 L528.47 96.49 L529.30 96.49 L530.13 96.49 L530.96 96.49 L531.79 96.49 L532.62 96.49 L533.45 96.49 L534.28 96.50 L535.11 96.50 L535.94 96.50 L536.78 96.51 L537.61 96.51 L538.44 96.52 L539.27 96.52 L540.10 96.53 L540.93 96.54 L541.76 96.54 L542.59 96.55 L543.42 96.56 L544.25 96.57 L545.08 96.58 L545.91 96.59 L546.74 96.60 L547.57 96.61 L548.41 96.62 L549.24 96.64 L550.07 96.65 L550.90 96.67 L551.73 96.69 L552.56 96.71 L553.39 96.73 L554.22 96.76 L555.05 96.78 L555.88 96.82 L556.71 96.85 L557.54 96.89 L558.37 96.93 L559.20 96.97 L560.03 97.02 L560.86 97.08 L561.69 97.13 L562.52 97.20 L563.35 97.27 L564.18 97.34 L565.01 97.43 L565.84 97.52 L566.66 97.63 L567.48 97.75 L568.30 97.88 L569.12 98.02 L569.94 98.18 L570.75 98.35 L571.56 98.54 L572.37 98.75 L573.17 98.97 L573.97 99.22 L574.76 99.48 L575.55 99.75 L576.32 100.05 L577.10 100.37 L577.86 100.70 L578.61 101.05 L579.36 101.42 L580.09 101.81 L580.82 102.22 L581.54 102.64 L582.24 103.08 L582.94 103.54 L583.62 104.01 L584.30 104.50 L584.97 105.00 L585.63 105.51 L586.28 106.03 L586.92 106.56 L587.56 107.10 L588.18 107.65 L588.80 108.21 L589.41 108.77 L590.02 109.34 L590.61 109.92 L591.21 110.50 L591.80 111.09 L592.38 111.68 L592.96 112.27 L593.53 112.87 L594.11 113.47 L594.68 114.08 L595.25 114.69 L595.81 115.29 L596.38 115.90 L596.95 116.51 L597.51 117.12 L598.08 117.73 L598.64 118.34 L599.21 118.95 L599.77 119.55 L600.34 120.16 L600.90 120.77 L601.47 121.38 L602.03 121.99 L602.60 122.59 L603.17 123.20 L603.74 123.81 L604.31 124.41 L604.88 125.01 L605.46 125.62 L606.03 126.22 L606.61 126.81 L607.19 127.41 L607.78 128.00 L608.37 128.58 L608.96 129.17 L609.56 129.74 L610.17 130.31 L610.78 130.88 L611.39 131.43 L612.02 131.98 L612.65 132.52 L613.29 133.06 L613.93 133.58 L614.58 134.10 L615.25 134.60 L615.91 135.10 L616.59 135.58 L617.27 136.06 L617.97 136.52 L618.66 136.97 L619.37 137.42 L620.08 137.84 L620.80 138.26 L621.53 138.66 L622.27 139.05 L623.01 139.43 L623.76 139.79 L624.51 140.14 L625.27 140.48 L626.04 140.81 L626.81 141.12 L627.58 141.42 L628.36 141.71 L629.15 141.99 L629.94 142.25 L630.73 142.50 L631.53 142.74 L632.33 142.97 L633.13 143.18 L633.94 143.39 L634.74 143.58 L635.56 143.77 L636.37 143.95 L637.18 144.12 L638.00 144.28 L638.82 144.43 L639.64 144.58 L640.46 144.71 L641.28 144.85 L642.10 144.97 L642.92 145.09 L643.75 145.20 L644.57 145.31 L645.40 145.41 L646.22 145.50 L647.05 145.59 L647.87 145.68 L648.70 145.76 L649.53 145.83 L650.36 145.91 L651.19 145.98 L652.01 146.04 L652.84 146.10 L653.67 146.16 L654.50 146.21 L655.33 146.26 L656.16 146.31 L656.99 146.36 L657.82 146.40 L658.65 146.44 L659.48 146.48 L660.31 146.52 L661.14 146.55 L661.97 146.58 L662.80 146.61 L663.63 146.64 L664.46 146.66 L665.29 146.69 L666.12 146.71 L666.95 146.73 L667.79 146.75 L668.62 146.77 L669.45 146.79 L670.28 146.81 L671.11 146.82 L671.94 146.84 L672.77 146.85 L673.60 146.87 L674.43 146.88 L675.26 146.89 L676.09 146.90 L676.93 146.91 L677.76 146.92 L678.59 146.93 L679.42 146.94 L680.25 146.95 L681.08 146.96 L681.91 146.97 L682.74 146.97 L683.57 146.98 L684.40 146.99 L685.23 146.99 L686.07 146.99 L686.90 147.00 L687.73 147.00 L688.56 147.01 L689.39 147.01 L690.22 147.01 L691.05 147.01 L691.88 147.02 L692.71 147.02 L693.54 147.02 L694.37 147.02 L695.21 147.02 L696.04 147.02 L696.87 147.02 L697.70 147.02 L698.53 147.02 L699.36 147.02 L700.19 147.02 L701.02 147.02 L701.85 147.01 L702.68 147.01 L703.51 147.01 L704.35 147.01 L705.18 147.01 L706.01 147.01 L706.84 147.00 L707.67 147.00 L708.50 147.00" fill="none" stroke="#ee1c25" stroke-width="1.35" stroke-linejoin="round" clip-path="url(#ke)"/>
<text x="577.9" y="30.1" font-size="15.5" text-anchor="start" fill="#2b2b2b">(e)</text>
<text x="601.8" y="30.1" font-size="15.5" font-style="italic" text-anchor="start" fill="#2b2b2b" textLength="40.6" lengthAdjust="spacingAndGlyphs">FFX,</text>
<text x="646.8" y="30.1" font-size="15.5" font-style="italic" text-anchor="start" fill="#2b2b2b" textLength="9.4" lengthAdjust="spacingAndGlyphs">J</text>
<text x="656.6" y="22.9" font-size="11.5" text-anchor="start" fill="#2b2b2b" textLength="7.2" lengthAdjust="spacingAndGlyphs">π</text>
<text x="668.5" y="30.5" font-size="15.5" text-anchor="start" fill="#2b2b2b" textLength="12.4" lengthAdjust="spacingAndGlyphs">=</text>
<text x="684.8" y="30.1" font-size="15.5" text-anchor="start" fill="#2b2b2b">0</text>
<text x="692.3" y="26.1" font-size="16" text-anchor="start" fill="#2b2b2b">+</text>
<text x="595.5" y="62.8" font-size="15.5" font-style="italic" text-anchor="start" fill="#2b2b2b">p</text>
<text x="603.8" y="64.6" font-size="11" text-anchor="start" fill="#2b2b2b">1</text>
<text x="553.9" y="113.5" font-size="15.5" font-style="italic" text-anchor="start" fill="#2b2b2b">p</text>
<text x="562.2" y="115.3" font-size="11" text-anchor="start" fill="#2b2b2b">0</text>
<path d="M750.99 171.9L750.99 169.75M750.99 8.55L750.99 10.7M757.77 171.9L757.77 169.75M757.77 8.55L757.77 10.7M762.58 171.9L762.58 169.75M762.58 8.55L762.58 10.7M766.31 171.9L766.31 169.75M766.31 8.55L766.31 10.7M769.36 171.9L769.36 169.75M769.36 8.55L769.36 10.7M771.94 171.9L771.94 169.75M771.94 8.55L771.94 10.7M774.17 171.9L774.17 169.75M774.17 8.55L774.17 10.7M776.14 171.9L776.14 169.75M776.14 8.55L776.14 10.7M777.9 171.9L777.9 167.5M777.9 8.55L777.9 12.95M789.49 171.9L789.49 169.75M789.49 8.55L789.49 10.7M796.27 171.9L796.27 169.75M796.27 8.55L796.27 10.7M801.08 171.9L801.08 169.75M801.08 8.55L801.08 10.7M804.81 171.9L804.81 169.75M804.81 8.55L804.81 10.7M807.86 171.9L807.86 169.75M807.86 8.55L807.86 10.7M810.44 171.9L810.44 169.75M810.44 8.55L810.44 10.7M812.67 171.9L812.67 169.75M812.67 8.55L812.67 10.7M814.64 171.9L814.64 169.75M814.64 8.55L814.64 10.7M816.4 171.9L816.4 167.5M816.4 8.55L816.4 12.95M827.99 171.9L827.99 169.75M827.99 8.55L827.99 10.7M834.77 171.9L834.77 169.75M834.77 8.55L834.77 10.7M839.58 171.9L839.58 169.75M839.58 8.55L839.58 10.7M843.31 171.9L843.31 169.75M843.31 8.55L843.31 10.7M846.36 171.9L846.36 169.75M846.36 8.55L846.36 10.7M848.94 171.9L848.94 169.75M848.94 8.55L848.94 10.7M851.17 171.9L851.17 169.75M851.17 8.55L851.17 10.7M853.14 171.9L853.14 169.75M853.14 8.55L853.14 10.7M854.9 171.9L854.9 167.5M854.9 8.55L854.9 12.95M866.49 171.9L866.49 169.75M866.49 8.55L866.49 10.7M873.27 171.9L873.27 169.75M873.27 8.55L873.27 10.7M878.08 171.9L878.08 169.75M878.08 8.55L878.08 10.7M881.81 171.9L881.81 169.75M881.81 8.55L881.81 10.7M884.86 171.9L884.86 169.75M884.86 8.55L884.86 10.7M887.44 171.9L887.44 169.75M887.44 8.55L887.44 10.7M889.67 171.9L889.67 169.75M889.67 8.55L889.67 10.7M891.64 171.9L891.64 169.75M891.64 8.55L891.64 10.7M893.4 171.9L893.4 167.5M893.4 8.55L893.4 12.95M904.99 171.9L904.99 169.75M904.99 8.55L904.99 10.7M911.77 171.9L911.77 169.75M911.77 8.55L911.77 10.7M916.58 171.9L916.58 169.75M916.58 8.55L916.58 10.7M920.31 171.9L920.31 169.75M920.31 8.55L920.31 10.7M923.36 171.9L923.36 169.75M923.36 8.55L923.36 10.7M925.94 171.9L925.94 169.75M925.94 8.55L925.94 10.7M928.17 171.9L928.17 169.75M928.17 8.55L928.17 10.7M930.14 171.9L930.14 169.75M930.14 8.55L930.14 10.7M739.4 24.92L743.8 24.92M931.9 24.92L927.5 24.92M739.4 73.91L743.8 73.91M931.9 73.91L927.5 73.91M739.4 122.9L743.8 122.9M931.9 122.9L927.5 122.9M739.4 155.56L741.55 155.56M931.9 155.56L929.75 155.56M739.4 139.23L741.55 139.23M931.9 139.23L929.75 139.23M739.4 122.9L741.55 122.9M931.9 122.9L929.75 122.9M739.4 106.57L741.55 106.57M931.9 106.57L929.75 106.57M739.4 90.24L741.55 90.24M931.9 90.24L929.75 90.24M739.4 73.91L741.55 73.91M931.9 73.91L929.75 73.91M739.4 57.58L741.55 57.58M931.9 57.58L929.75 57.58M739.4 41.25L741.55 41.25M931.9 41.25L929.75 41.25M739.4 24.92L741.55 24.92M931.9 24.92L929.75 24.92" stroke="#000" stroke-width="1.15" fill="none"/>
<rect x="739.4" y="8.55" width="192.5" height="163.35" fill="none" stroke="#000" stroke-width="1.4"/>
<text x="733.5" y="30.72" font-size="14" text-anchor="end" fill="#000">6</text>
<text x="733.5" y="79.71" font-size="14" text-anchor="end" fill="#000">3</text>
<text x="733.5" y="128.7" font-size="14" text-anchor="end" fill="#000">0</text>
<text x="733.5" y="177.69" font-size="14" text-anchor="end" fill="#000">-3</text>
<path d="M744 122.9H931.9" stroke="#1a1a1a" stroke-width="1.25" stroke-dasharray="3.3 1.25" fill="none"/>
<path d="M811.9 171.9V8.55" stroke="#00a651" stroke-width="1.25" stroke-dasharray="3.3 2" fill="none"/>
<path d="M739.00 71.20 L739.83 71.12 L740.66 71.05 L741.48 70.97 L742.31 70.90 L743.14 70.82 L743.96 70.74 L744.79 70.66 L745.62 70.58 L746.44 70.49 L747.27 70.41 L748.10 70.32 L748.92 70.23 L749.75 70.14 L750.57 70.04 L751.40 69.94 L752.22 69.84 L753.04 69.73 L753.87 69.62 L754.69 69.50 L755.51 69.38 L756.33 69.26 L757.15 69.13 L757.97 69.00 L758.79 68.86 L759.61 68.72 L760.42 68.58 L761.24 68.43 L762.06 68.28 L762.87 68.13 L763.69 67.97 L764.50 67.81 L765.32 67.65 L766.13 67.49 L766.95 67.33 L767.76 67.16 L768.58 66.99 L769.39 66.82 L770.20 66.65 L771.02 66.48 L771.83 66.31 L772.64 66.14 L773.46 65.97 L774.27 65.80 L775.08 65.63 L775.90 65.46 L776.71 65.29 L777.52 65.11 L778.33 64.94 L779.14 64.77 L779.96 64.60 L780.77 64.42 L781.58 64.25 L782.39 64.08 L783.20 63.90 L784.02 63.73 L784.83 63.55 L785.64 63.38 L786.45 63.20 L787.26 63.03 L788.07 62.85 L788.89 62.67 L789.70 62.50 L790.51 62.32 L791.32 62.14 L792.13 61.97 L792.94 61.79 L793.75 61.61 L794.56 61.44 L795.38 61.26 L796.19 61.08 L797.00 60.91 L797.81 60.74 L798.62 60.56 L799.44 60.39 L800.25 60.22 L801.06 60.05 L801.87 59.88 L802.69 59.71 L803.50 59.54 L804.32 59.38 L805.13 59.21 L805.94 59.05 L806.76 58.89 L807.57 58.73 L808.39 58.57 L809.20 58.41 L810.02 58.26 L810.84 58.10 L811.65 57.95 L812.47 57.79 L813.28 57.64 L814.10 57.48 L814.91 57.33 L815.73 57.18 L816.55 57.03 L817.36 56.87 L818.18 56.72 L819.00 56.57 L819.81 56.41 L820.63 56.26 L821.44 56.11 L822.26 55.96 L823.08 55.80 L823.89 55.65 L824.71 55.49 L825.52 55.34 L826.34 55.18 L827.16 55.03 L827.97 54.87 L828.79 54.72 L829.60 54.56 L830.42 54.41 L831.24 54.25 L832.05 54.10 L832.87 53.95 L833.68 53.80 L834.50 53.65 L835.32 53.50 L836.14 53.35 L836.95 53.21 L837.77 53.07 L838.59 52.93 L839.41 52.80 L840.23 52.67 L841.05 52.54 L841.87 52.41 L842.69 52.30 L843.52 52.18 L844.34 52.08 L845.17 51.97 L845.99 51.88 L846.82 51.79 L847.65 51.71 L848.47 51.64 L849.30 51.59 L850.13 51.54 L850.96 51.51 L851.79 51.50 L852.62 51.51 L853.45 51.53 L854.28 51.57 L855.11 51.62 L855.94 51.68 L856.77 51.76 L857.59 51.84 L858.42 51.94 L859.25 52.04 L860.07 52.15 L860.89 52.26 L861.71 52.38 L862.53 52.50 L863.36 52.63 L864.18 52.76 L865.00 52.89 L865.82 53.02 L866.63 53.15 L867.45 53.29 L868.27 53.42 L869.09 53.56 L869.91 53.69 L870.73 53.83 L871.55 53.96 L872.37 54.09 L873.19 54.22 L874.01 54.34 L874.84 54.47 L875.66 54.59 L876.48 54.71 L877.30 54.82 L878.12 54.94 L878.95 55.05 L879.77 55.15 L880.59 55.25 L881.42 55.35 L882.24 55.44 L883.07 55.53 L883.90 55.62 L884.72 55.70 L885.55 55.78 L886.38 55.86 L887.20 55.93 L888.03 56.01 L888.86 56.08 L889.69 56.15 L890.51 56.21 L891.34 56.28 L892.17 56.34 L893.00 56.40 L893.83 56.46 L894.66 56.52 L895.48 56.57 L896.31 56.63 L897.14 56.68 L897.97 56.74 L898.80 56.79 L899.63 56.84 L900.46 56.88 L901.29 56.93 L902.12 56.98 L902.95 57.02 L903.78 57.06 L904.60 57.10 L905.43 57.14 L906.26 57.18 L907.09 57.21 L907.92 57.24 L908.75 57.28 L909.58 57.31 L910.41 57.34 L911.24 57.36 L912.07 57.39 L912.90 57.41 L913.73 57.43 L914.56 57.46 L915.39 57.48 L916.22 57.49 L917.05 57.51 L917.88 57.53 L918.71 57.54 L919.54 57.56 L920.37 57.57 L921.20 57.58 L922.03 57.60 L922.86 57.61 L923.69 57.62 L924.53 57.63 L925.36 57.64 L926.19 57.65 L927.02 57.65 L927.85 57.66 L928.68 57.67 L929.51 57.68 L930.34 57.69 L931.17 57.69 L932.00 57.70" fill="none" stroke="#ee1c25" stroke-width="1.35" stroke-linejoin="round" clip-path="url(#kf)"/>
<path d="M782.30 176.00 L782.72 175.28 L783.14 174.56 L783.56 173.84 L783.98 173.12 L784.39 172.40 L784.81 171.68 L785.23 170.96 L785.65 170.24 L786.06 169.52 L786.48 168.80 L786.90 168.08 L787.32 167.36 L787.73 166.64 L788.15 165.92 L788.57 165.20 L788.99 164.48 L789.41 163.77 L789.83 163.05 L790.25 162.33 L790.67 161.61 L791.09 160.89 L791.52 160.18 L791.94 159.46 L792.37 158.75 L792.80 158.03 L793.23 157.32 L793.66 156.61 L794.09 155.90 L794.52 155.19 L794.96 154.48 L795.39 153.77 L795.83 153.06 L796.27 152.35 L796.70 151.64 L797.14 150.94 L797.58 150.23 L798.02 149.52 L798.46 148.82 L798.90 148.11 L799.35 147.40 L799.79 146.70 L800.23 145.99 L800.67 145.29 L801.11 144.58 L801.55 143.88 L802.00 143.17 L802.44 142.46 L802.87 141.76 L803.31 141.05 L803.74 140.34 L804.18 139.62 L804.60 138.91 L805.03 138.19 L805.45 137.48 L805.87 136.76 L806.28 136.03 L806.69 135.31 L807.09 134.58 L807.48 133.84 L807.87 133.11 L808.25 132.36 L808.61 131.62 L808.96 130.86 L809.30 130.10 L809.63 129.33 L809.93 128.56 L810.22 127.77 L810.49 126.98 L810.73 126.18 L810.95 125.38 L811.14 124.57 L811.31 123.76 L811.44 122.94 L811.55 122.11 L811.65 121.29 L811.73 120.46 L811.81 119.63 L811.89 118.80 L811.98 117.96 L812.08 117.13 L812.21 116.31 L812.36 115.49 L812.55 114.68 L812.77 113.88 L813.05 113.09 L813.38 112.32 L813.75 111.57 L814.17 110.85 L814.62 110.14 L815.11 109.46 L815.64 108.81 L816.20 108.18 L816.79 107.59 L817.40 107.02 L818.03 106.48 L818.69 105.96 L819.36 105.47 L820.04 104.99 L820.74 104.53 L821.45 104.08 L822.16 103.65 L822.88 103.23 L823.61 102.83 L824.35 102.43 L825.09 102.06 L825.84 101.69 L826.60 101.34 L827.36 101.00 L828.12 100.67 L828.89 100.36 L829.67 100.06 L830.45 99.77 L831.23 99.49 L832.02 99.23 L832.82 98.98 L833.61 98.73 L834.41 98.50 L835.21 98.27 L836.02 98.05 L836.82 97.84 L837.63 97.64 L838.44 97.44 L839.25 97.25 L840.07 97.06 L840.88 96.88 L841.70 96.70 L842.51 96.53 L843.33 96.35 L844.14 96.18 L844.96 96.02 L845.78 95.85 L846.59 95.69 L847.41 95.54 L848.23 95.39 L849.05 95.24 L849.87 95.09 L850.69 94.95 L851.51 94.81 L852.33 94.67 L853.15 94.53 L853.97 94.40 L854.79 94.28 L855.61 94.15 L856.44 94.03 L857.26 93.92 L858.09 93.80 L858.91 93.69 L859.74 93.58 L860.56 93.48 L861.39 93.37 L862.21 93.27 L863.04 93.17 L863.87 93.08 L864.69 92.98 L865.52 92.89 L866.35 92.79 L867.18 92.70 L868.00 92.62 L868.83 92.53 L869.66 92.44 L870.49 92.36 L871.32 92.28 L872.15 92.20 L872.97 92.12 L873.80 92.04 L874.63 91.96 L875.46 91.89 L876.29 91.81 L877.12 91.74 L877.95 91.67 L878.78 91.60 L879.61 91.54 L880.44 91.47 L881.27 91.41 L882.10 91.34 L882.93 91.28 L883.76 91.22 L884.59 91.17 L885.42 91.11 L886.25 91.05 L887.08 91.00 L887.91 90.95 L888.74 90.89 L889.57 90.84 L890.40 90.80 L891.23 90.75 L892.06 90.70 L892.90 90.66 L893.73 90.61 L894.56 90.57 L895.39 90.53 L896.22 90.49 L897.05 90.45 L897.88 90.42 L898.72 90.38 L899.55 90.34 L900.38 90.31 L901.21 90.28 L902.04 90.25 L902.87 90.22 L903.71 90.19 L904.54 90.16 L905.37 90.13 L906.20 90.10 L907.03 90.08 L907.87 90.05 L908.70 90.03 L909.53 90.01 L910.36 89.98 L911.19 89.96 L912.03 89.94 L912.86 89.92 L913.69 89.90 L914.52 89.88 L915.35 89.87 L916.19 89.85 L917.02 89.83 L917.85 89.82 L918.68 89.80 L919.52 89.79 L920.35 89.77 L921.18 89.76 L922.01 89.74 L922.84 89.73 L923.68 89.72 L924.51 89.71 L925.34 89.69 L926.17 89.68 L927.01 89.67 L927.84 89.66 L928.67 89.65 L929.50 89.63 L930.34 89.62 L931.17 89.61 L932.00 89.60" fill="none" stroke="#ee1c25" stroke-width="1.35" stroke-linejoin="round" clip-path="url(#kf)"/>
<text x="800.8" y="30" font-size="15.5" text-anchor="start" fill="#2b2b2b">(f)</text>
<text x="824" y="30" font-size="15.5" font-style="italic" text-anchor="start" fill="#2b2b2b" textLength="40.6" lengthAdjust="spacingAndGlyphs">FFX,</text>
<text x="869" y="30" font-size="15.5" font-style="italic" text-anchor="start" fill="#2b2b2b" textLength="9.4" lengthAdjust="spacingAndGlyphs">J</text>
<text x="878.8" y="22.8" font-size="11.5" text-anchor="start" fill="#2b2b2b" textLength="7.2" lengthAdjust="spacingAndGlyphs">π</text>
<text x="890.7" y="30.4" font-size="15.5" text-anchor="start" fill="#2b2b2b" textLength="12.4" lengthAdjust="spacingAndGlyphs">=</text>
<text x="907" y="30" font-size="15.5" text-anchor="start" fill="#2b2b2b">1</text>
<text x="914.5" y="26" font-size="16" text-anchor="start" fill="#2b2b2b">−</text>
<text x="772.8" y="53.1" font-size="15.5" font-style="italic" text-anchor="start" fill="#2b2b2b">s</text>
<text x="780" y="54.9" font-size="11" text-anchor="start" fill="#2b2b2b">1</text>
<text x="846.7" y="70" font-size="15.5" font-style="italic" text-anchor="start" fill="#2b2b2b">p</text>
<text x="855" y="71.8" font-size="11" text-anchor="start" fill="#2b2b2b">1</text>
<text x="769" y="149.5" font-size="15.5" text-anchor="start" fill="#2b2b2b" textLength="11.3" lengthAdjust="spacingAndGlyphs">−</text>
<text x="781.9" y="149.5" font-size="15.5" font-style="italic" text-anchor="start" fill="#2b2b2b">s</text>
<text x="789.1" y="151.3" font-size="11" text-anchor="start" fill="#2b2b2b">0</text>
<text x="822.2" y="143.3" font-size="17" font-style="italic" text-anchor="start" fill="#2b2b2b">δ</text>
<text x="830.2" y="137.9" font-size="12.5" text-anchor="start" fill="#2b2b2b">(1)</text>
<text x="830.1" y="147.9" font-size="11" font-style="italic" text-anchor="start" fill="#2b2b2b">c</text>
<text x="864.3" y="104.9" font-size="15.5" font-style="italic" text-anchor="start" fill="#2b2b2b">p</text>
<text x="872.6" y="106.7" font-size="11" text-anchor="start" fill="#2b2b2b">0</text>
<path d="M28.58 362.1L28.58 359.95M28.58 204L28.58 206.15M35.36 362.1L35.36 359.95M35.36 204L35.36 206.15M40.17 362.1L40.17 359.95M40.17 204L40.17 206.15M43.9 362.1L43.9 359.95M43.9 204L43.9 206.15M46.94 362.1L46.94 359.95M46.94 204L46.94 206.15M49.52 362.1L49.52 359.95M49.52 204L49.52 206.15M51.75 362.1L51.75 359.95M51.75 204L51.75 206.15M53.72 362.1L53.72 359.95M53.72 204L53.72 206.15M55.48 362.1L55.48 357.7M55.48 204L55.48 208.4M67.06 362.1L67.06 359.95M67.06 204L67.06 206.15M73.84 362.1L73.84 359.95M73.84 204L73.84 206.15M78.65 362.1L78.65 359.95M78.65 204L78.65 206.15M82.38 362.1L82.38 359.95M82.38 204L82.38 206.15M85.42 362.1L85.42 359.95M85.42 204L85.42 206.15M88 362.1L88 359.95M88 204L88 206.15M90.23 362.1L90.23 359.95M90.23 204L90.23 206.15M92.2 362.1L92.2 359.95M92.2 204L92.2 206.15M93.96 362.1L93.96 357.7M93.96 204L93.96 208.4M105.54 362.1L105.54 359.95M105.54 204L105.54 206.15M112.32 362.1L112.32 359.95M112.32 204L112.32 206.15M117.13 362.1L117.13 359.95M117.13 204L117.13 206.15M120.86 362.1L120.86 359.95M120.86 204L120.86 206.15M123.9 362.1L123.9 359.95M123.9 204L123.9 206.15M126.48 362.1L126.48 359.95M126.48 204L126.48 206.15M128.71 362.1L128.71 359.95M128.71 204L128.71 206.15M130.68 362.1L130.68 359.95M130.68 204L130.68 206.15M132.44 362.1L132.44 357.7M132.44 204L132.44 208.4M144.02 362.1L144.02 359.95M144.02 204L144.02 206.15M150.8 362.1L150.8 359.95M150.8 204L150.8 206.15M155.61 362.1L155.61 359.95M155.61 204L155.61 206.15M159.34 362.1L159.34 359.95M159.34 204L159.34 206.15M162.38 362.1L162.38 359.95M162.38 204L162.38 206.15M164.96 362.1L164.96 359.95M164.96 204L164.96 206.15M167.19 362.1L167.19 359.95M167.19 204L167.19 206.15M169.16 362.1L169.16 359.95M169.16 204L169.16 206.15M170.92 362.1L170.92 357.7M170.92 204L170.92 208.4M182.5 362.1L182.5 359.95M182.5 204L182.5 206.15M189.28 362.1L189.28 359.95M189.28 204L189.28 206.15M194.09 362.1L194.09 359.95M194.09 204L194.09 206.15M197.82 362.1L197.82 359.95M197.82 204L197.82 206.15M200.86 362.1L200.86 359.95M200.86 204L200.86 206.15M203.44 362.1L203.44 359.95M203.44 204L203.44 206.15M205.67 362.1L205.67 359.95M205.67 204L205.67 206.15M207.64 362.1L207.64 359.95M207.64 204L207.64 206.15M17 232.9L21.4 232.9M209.4 232.9L205 232.9M17 276.1L21.4 276.1M209.4 276.1L205 276.1M17 319.3L21.4 319.3M209.4 319.3L205 319.3M17 348.1L19.15 348.1M209.4 348.1L207.25 348.1M17 333.7L19.15 333.7M209.4 333.7L207.25 333.7M17 319.3L19.15 319.3M209.4 319.3L207.25 319.3M17 304.9L19.15 304.9M209.4 304.9L207.25 304.9M17 290.5L19.15 290.5M209.4 290.5L207.25 290.5M17 276.1L19.15 276.1M209.4 276.1L207.25 276.1M17 261.7L19.15 261.7M209.4 261.7L207.25 261.7M17 247.3L19.15 247.3M209.4 247.3L207.25 247.3M17 232.9L19.15 232.9M209.4 232.9L207.25 232.9M17 218.5L19.15 218.5M209.4 218.5L207.25 218.5" stroke="#000" stroke-width="1.15" fill="none"/>
<rect x="17" y="204" width="192.4" height="158.1" fill="none" stroke="#000" stroke-width="1.4"/>
<text x="12.3" y="236.5" font-size="14" text-anchor="end" fill="#000">6</text>
<text x="12.3" y="279.7" font-size="14" text-anchor="end" fill="#000">3</text>
<text x="12.3" y="322.9" font-size="14" text-anchor="end" fill="#000">0</text>
<text x="12.3" y="366.1" font-size="14" text-anchor="end" fill="#000">-3</text>
<path d="M21.6 319.3H209.4" stroke="#1a1a1a" stroke-width="1.25" stroke-dasharray="3.3 1.25" fill="none"/>
<path d="M71.1 362.1V204" stroke="#00a651" stroke-width="1.25" stroke-dasharray="3.3 2" fill="none"/>
<path d="M17.00 258.80 L17.83 258.71 L18.66 258.62 L19.49 258.53 L20.31 258.44 L21.14 258.34 L21.97 258.25 L22.80 258.16 L23.63 258.06 L24.45 257.97 L25.28 257.87 L26.11 257.77 L26.94 257.67 L27.76 257.57 L28.59 257.46 L29.42 257.35 L30.24 257.24 L31.07 257.13 L31.89 257.02 L32.72 256.90 L33.54 256.78 L34.36 256.66 L35.19 256.53 L36.01 256.40 L36.83 256.27 L37.65 256.13 L38.48 255.99 L39.30 255.85 L40.12 255.71 L40.94 255.57 L41.76 255.42 L42.58 255.28 L43.40 255.13 L44.22 254.98 L45.04 254.82 L45.86 254.67 L46.68 254.52 L47.50 254.36 L48.31 254.20 L49.13 254.05 L49.95 253.89 L50.77 253.73 L51.59 253.57 L52.41 253.42 L53.22 253.26 L54.04 253.10 L54.86 252.94 L55.68 252.78 L56.50 252.62 L57.31 252.46 L58.13 252.30 L58.95 252.14 L59.77 251.97 L60.58 251.81 L61.40 251.65 L62.22 251.49 L63.04 251.33 L63.85 251.17 L64.67 251.01 L65.49 250.85 L66.30 250.68 L67.12 250.52 L67.94 250.36 L68.76 250.20 L69.57 250.04 L70.39 249.88 L71.21 249.72 L72.03 249.56 L72.84 249.40 L73.66 249.24 L74.48 249.08 L75.30 248.92 L76.12 248.76 L76.93 248.60 L77.75 248.44 L78.57 248.29 L79.39 248.13 L80.20 247.97 L81.02 247.81 L81.84 247.65 L82.66 247.49 L83.48 247.34 L84.30 247.18 L85.11 247.02 L85.93 246.87 L86.75 246.71 L87.57 246.55 L88.39 246.40 L89.21 246.24 L90.02 246.09 L90.84 245.93 L91.66 245.78 L92.48 245.63 L93.30 245.47 L94.12 245.32 L94.94 245.18 L95.76 245.03 L96.58 244.88 L97.40 244.74 L98.22 244.60 L99.04 244.46 L99.87 244.33 L100.69 244.19 L101.51 244.06 L102.34 243.93 L103.16 243.81 L103.98 243.68 L104.81 243.56 L105.63 243.45 L106.46 243.34 L107.29 243.23 L108.11 243.13 L108.94 243.03 L109.77 242.94 L110.60 242.85 L111.43 242.77 L112.26 242.70 L113.09 242.63 L113.92 242.57 L114.75 242.52 L115.58 242.47 L116.42 242.44 L117.25 242.41 L118.08 242.39 L118.92 242.39 L119.75 242.40 L120.58 242.42 L121.42 242.46 L122.25 242.51 L123.08 242.57 L123.91 242.65 L124.74 242.74 L125.57 242.84 L126.39 242.96 L127.22 243.09 L128.04 243.22 L128.86 243.38 L129.68 243.54 L130.49 243.71 L131.31 243.88 L132.12 244.06 L132.94 244.23 L133.75 244.41 L134.57 244.59 L135.38 244.76 L136.20 244.92 L137.02 245.07 L137.84 245.22 L138.66 245.35 L139.48 245.48 L140.31 245.60 L141.13 245.72 L141.96 245.82 L142.79 245.93 L143.62 246.02 L144.44 246.11 L145.27 246.19 L146.10 246.27 L146.93 246.35 L147.77 246.42 L148.60 246.48 L149.43 246.55 L150.26 246.61 L151.09 246.66 L151.92 246.71 L152.75 246.76 L153.59 246.81 L154.42 246.85 L155.25 246.89 L156.08 246.93 L156.91 246.97 L157.75 247.00 L158.58 247.03 L159.41 247.06 L160.24 247.09 L161.08 247.11 L161.91 247.14 L162.74 247.16 L163.58 247.18 L164.41 247.20 L165.24 247.22 L166.08 247.24 L166.91 247.25 L167.74 247.27 L168.57 247.28 L169.41 247.30 L170.24 247.31 L171.07 247.32 L171.91 247.33 L172.74 247.34 L173.57 247.35 L174.41 247.36 L175.24 247.36 L176.07 247.37 L176.91 247.38 L177.74 247.38 L178.57 247.39 L179.41 247.39 L180.24 247.40 L181.07 247.40 L181.91 247.40 L182.74 247.41 L183.57 247.41 L184.40 247.41 L185.24 247.41 L186.07 247.42 L186.90 247.42 L187.74 247.42 L188.57 247.42 L189.40 247.42 L190.24 247.42 L191.07 247.42 L191.90 247.42 L192.74 247.42 L193.57 247.42 L194.40 247.42 L195.24 247.42 L196.07 247.42 L196.90 247.42 L197.74 247.42 L198.57 247.42 L199.40 247.42 L200.24 247.42 L201.07 247.42 L201.90 247.41 L202.73 247.41 L203.57 247.41 L204.40 247.41 L205.23 247.41 L206.07 247.41 L206.90 247.41 L207.73 247.40 L208.57 247.40 L209.40 247.40" fill="none" stroke="#ee1c25" stroke-width="1.35" stroke-linejoin="round" clip-path="url(#kc)"/>
<path d="M54.80 366.00 L55.11 365.23 L55.42 364.46 L55.73 363.69 L56.05 362.92 L56.36 362.15 L56.67 361.38 L56.99 360.62 L57.30 359.85 L57.62 359.08 L57.93 358.31 L58.25 357.55 L58.57 356.78 L58.89 356.01 L59.21 355.25 L59.53 354.48 L59.86 353.72 L60.18 352.95 L60.51 352.19 L60.83 351.43 L61.16 350.66 L61.49 349.90 L61.82 349.14 L62.14 348.37 L62.47 347.61 L62.80 346.85 L63.13 346.09 L63.46 345.32 L63.78 344.56 L64.11 343.79 L64.43 343.03 L64.75 342.26 L65.06 341.49 L65.38 340.73 L65.69 339.96 L65.99 339.19 L66.30 338.41 L66.59 337.64 L66.89 336.86 L67.17 336.08 L67.46 335.30 L67.73 334.52 L68.00 333.73 L68.26 332.95 L68.52 332.16 L68.77 331.36 L69.01 330.57 L69.24 329.77 L69.46 328.97 L69.68 328.16 L69.88 327.35 L70.07 326.54 L70.24 325.73 L70.40 324.91 L70.54 324.09 L70.66 323.27 L70.76 322.45 L70.83 321.62 L70.88 320.80 L70.92 319.97 L70.94 319.14 L70.95 318.31 L70.97 317.48 L70.98 316.65 L71.00 315.81 L71.04 314.98 L71.08 314.15 L71.14 313.32 L71.22 312.49 L71.31 311.67 L71.41 310.84 L71.53 310.02 L71.67 309.20 L71.83 308.38 L72.01 307.57 L72.20 306.77 L72.42 305.96 L72.66 305.17 L72.91 304.37 L73.19 303.59 L73.48 302.81 L73.80 302.04 L74.13 301.28 L74.49 300.52 L74.86 299.78 L75.26 299.05 L75.67 298.32 L76.11 297.61 L76.57 296.92 L77.04 296.23 L77.54 295.57 L78.06 294.92 L78.61 294.29 L79.17 293.68 L79.76 293.09 L80.36 292.52 L80.99 291.97 L81.63 291.44 L82.29 290.92 L82.96 290.43 L83.64 289.95 L84.34 289.49 L85.04 289.05 L85.76 288.63 L86.49 288.22 L87.22 287.83 L87.96 287.45 L88.71 287.09 L89.46 286.74 L90.23 286.41 L90.99 286.08 L91.76 285.77 L92.54 285.47 L93.32 285.18 L94.10 284.90 L94.88 284.63 L95.67 284.37 L96.46 284.12 L97.25 283.87 L98.05 283.62 L98.84 283.38 L99.64 283.15 L100.43 282.91 L101.23 282.68 L102.03 282.45 L102.83 282.22 L103.63 281.99 L104.43 281.76 L105.22 281.53 L106.02 281.31 L106.82 281.08 L107.63 280.87 L108.43 280.65 L109.23 280.45 L110.04 280.25 L110.84 280.05 L111.65 279.87 L112.46 279.69 L113.27 279.52 L114.09 279.36 L114.90 279.20 L115.72 279.05 L116.54 278.91 L117.36 278.78 L118.18 278.65 L119.00 278.52 L119.82 278.41 L120.65 278.29 L121.47 278.18 L122.30 278.08 L123.12 277.98 L123.95 277.88 L124.77 277.79 L125.60 277.70 L126.42 277.61 L127.25 277.53 L128.08 277.45 L128.90 277.37 L129.73 277.30 L130.56 277.23 L131.39 277.16 L132.21 277.09 L133.04 277.03 L133.87 276.97 L134.70 276.92 L135.53 276.86 L136.35 276.81 L137.18 276.76 L138.01 276.71 L138.84 276.67 L139.67 276.63 L140.50 276.59 L141.33 276.55 L142.16 276.51 L142.99 276.48 L143.82 276.45 L144.65 276.42 L145.48 276.39 L146.31 276.36 L147.14 276.34 L147.97 276.32 L148.80 276.29 L149.63 276.27 L150.46 276.25 L151.29 276.24 L152.12 276.22 L152.95 276.21 L153.78 276.19 L154.61 276.18 L155.44 276.16 L156.27 276.15 L157.10 276.14 L157.93 276.13 L158.76 276.12 L159.59 276.11 L160.42 276.10 L161.25 276.09 L162.08 276.09 L162.91 276.08 L163.74 276.07 L164.57 276.06 L165.40 276.05 L166.23 276.05 L167.06 276.04 L167.89 276.03 L168.72 276.03 L169.55 276.02 L170.38 276.01 L171.21 276.01 L172.04 276.00 L172.87 276.00 L173.70 275.99 L174.53 275.99 L175.36 275.98 L176.19 275.98 L177.02 275.97 L177.85 275.97 L178.68 275.97 L179.51 275.96 L180.34 275.96 L181.17 275.95 L182.01 275.95 L182.84 275.95 L183.67 275.95 L184.50 275.94 L185.33 275.94 L186.16 275.94 L186.99 275.93 L187.82 275.93 L188.65 275.93 L189.48 275.93 L190.31 275.93 L191.14 275.92 L191.97 275.92 L192.80 275.92 L193.63 275.92 L194.46 275.92 L195.29 275.92 L196.12 275.91 L196.95 275.91 L197.78 275.91 L198.61 275.91 L199.44 275.91 L200.27 275.91 L201.10 275.91 L201.93 275.91 L202.76 275.91 L203.59 275.91 L204.42 275.90 L205.25 275.90 L206.08 275.90 L206.91 275.90 L207.74 275.90 L208.57 275.90 L209.40 275.90" fill="none" stroke="#ee1c25" stroke-width="1.35" stroke-linejoin="round" clip-path="url(#kc)"/>
<text x="77.5" y="225" font-size="15.5" text-anchor="start" fill="#2b2b2b">(c)</text>
<text x="101.5" y="225" font-size="15.5" font-style="italic" text-anchor="start" fill="#2b2b2b" textLength="41.6" lengthAdjust="spacingAndGlyphs">BBX,</text>
<text x="146.5" y="225" font-size="15.5" font-style="italic" text-anchor="start" fill="#2b2b2b" textLength="9.4" lengthAdjust="spacingAndGlyphs">J</text>
<text x="156.3" y="217.8" font-size="11.5" text-anchor="start" fill="#2b2b2b" textLength="7.2" lengthAdjust="spacingAndGlyphs">π</text>
<text x="168.2" y="225.4" font-size="15.5" text-anchor="start" fill="#2b2b2b" textLength="12.4" lengthAdjust="spacingAndGlyphs">=</text>
<text x="184.5" y="225" font-size="15.5" text-anchor="start" fill="#2b2b2b">2</text>
<text x="192" y="221" font-size="16" text-anchor="start" fill="#2b2b2b">+</text>
<text x="38.5" y="241.4" font-size="15.5" font-style="italic" text-anchor="start" fill="#2b2b2b">s</text>
<text x="45.7" y="243.2" font-size="11" text-anchor="start" fill="#2b2b2b">1</text>
<text x="112" y="257" font-size="15.5" font-style="italic" text-anchor="start" fill="#2b2b2b">p</text>
<text x="120.3" y="258.8" font-size="11" text-anchor="start" fill="#2b2b2b">1</text>
<text x="34.3" y="337.4" font-size="15.5" text-anchor="start" fill="#2b2b2b" textLength="11.3" lengthAdjust="spacingAndGlyphs">−</text>
<text x="47.2" y="337.4" font-size="15.5" font-style="italic" text-anchor="start" fill="#2b2b2b">s</text>
<text x="54.4" y="339.2" font-size="11" text-anchor="start" fill="#2b2b2b">0</text>
<text x="78.6" y="341.5" font-size="17" font-style="italic" text-anchor="start" fill="#2b2b2b">δ</text>
<text x="86.6" y="336.1" font-size="12.5" text-anchor="start" fill="#2b2b2b">(2)</text>
<text x="86.5" y="346.1" font-size="11" font-style="italic" text-anchor="start" fill="#2b2b2b">c</text>
<text x="129.4" y="292.9" font-size="15.5" font-style="italic" text-anchor="start" fill="#2b2b2b">p</text>
<text x="137.7" y="294.7" font-size="11" text-anchor="start" fill="#2b2b2b">0</text>
<path d="M251.93 362.1L251.93 359.95M251.93 204L251.93 206.15M258.73 362.1L258.73 359.95M258.73 204L258.73 206.15M263.55 362.1L263.55 359.95M263.55 204L263.55 206.15M267.29 362.1L267.29 359.95M267.29 204L267.29 206.15M270.35 362.1L270.35 359.95M270.35 204L270.35 206.15M272.94 362.1L272.94 359.95M272.94 204L272.94 206.15M275.18 362.1L275.18 359.95M275.18 204L275.18 206.15M277.15 362.1L277.15 359.95M277.15 204L277.15 206.15M278.92 362.1L278.92 357.7M278.92 204L278.92 208.4M290.55 362.1L290.55 359.95M290.55 204L290.55 206.15M297.35 362.1L297.35 359.95M297.35 204L297.35 206.15M302.17 362.1L302.17 359.95M302.17 204L302.17 206.15M305.91 362.1L305.91 359.95M305.91 204L305.91 206.15M308.97 362.1L308.97 359.95M308.97 204L308.97 206.15M311.56 362.1L311.56 359.95M311.56 204L311.56 206.15M313.8 362.1L313.8 359.95M313.8 204L313.8 206.15M315.77 362.1L315.77 359.95M315.77 204L315.77 206.15M317.54 362.1L317.54 357.7M317.54 204L317.54 208.4M329.17 362.1L329.17 359.95M329.17 204L329.17 206.15M335.97 362.1L335.97 359.95M335.97 204L335.97 206.15M340.79 362.1L340.79 359.95M340.79 204L340.79 206.15M344.53 362.1L344.53 359.95M344.53 204L344.53 206.15M347.59 362.1L347.59 359.95M347.59 204L347.59 206.15M350.18 362.1L350.18 359.95M350.18 204L350.18 206.15M352.42 362.1L352.42 359.95M352.42 204L352.42 206.15M354.39 362.1L354.39 359.95M354.39 204L354.39 206.15M356.16 362.1L356.16 357.7M356.16 204L356.16 208.4M367.79 362.1L367.79 359.95M367.79 204L367.79 206.15M374.59 362.1L374.59 359.95M374.59 204L374.59 206.15M379.41 362.1L379.41 359.95M379.41 204L379.41 206.15M383.15 362.1L383.15 359.95M383.15 204L383.15 206.15M386.21 362.1L386.21 359.95M386.21 204L386.21 206.15M388.8 362.1L388.8 359.95M388.8 204L388.8 206.15M391.04 362.1L391.04 359.95M391.04 204L391.04 206.15M393.01 362.1L393.01 359.95M393.01 204L393.01 206.15M394.78 362.1L394.78 357.7M394.78 204L394.78 208.4M406.41 362.1L406.41 359.95M406.41 204L406.41 206.15M413.21 362.1L413.21 359.95M413.21 204L413.21 206.15M418.03 362.1L418.03 359.95M418.03 204L418.03 206.15M421.77 362.1L421.77 359.95M421.77 204L421.77 206.15M424.83 362.1L424.83 359.95M424.83 204L424.83 206.15M427.42 362.1L427.42 359.95M427.42 204L427.42 206.15M429.66 362.1L429.66 359.95M429.66 204L429.66 206.15M431.63 362.1L431.63 359.95M431.63 204L431.63 206.15M240.3 267.2L244.7 267.2M433.4 267.2L429 267.2M240.3 330.4L244.7 330.4M433.4 330.4L429 330.4M240.3 330.4L242.45 330.4M433.4 330.4L431.25 330.4M240.3 298.8L242.45 298.8M433.4 298.8L431.25 298.8M240.3 267.2L242.45 267.2M433.4 267.2L431.25 267.2M240.3 235.6L242.45 235.6M433.4 235.6L431.25 235.6" stroke="#000" stroke-width="1.15" fill="none"/>
<rect x="240.3" y="204" width="193.1" height="158.1" fill="none" stroke="#000" stroke-width="1.4"/>
<text x="234.6" y="209.8" font-size="14" text-anchor="end" fill="#000">8</text>
<text x="234.6" y="273" font-size="14" text-anchor="end" fill="#000">6</text>
<text x="234.6" y="336.2" font-size="14" text-anchor="end" fill="#000">4</text>
<path d="M240.00 235.60 L240.83 235.59 L241.66 235.59 L242.50 235.58 L243.33 235.58 L244.16 235.57 L244.99 235.57 L245.82 235.57 L246.65 235.56 L247.48 235.56 L248.32 235.56 L249.15 235.57 L249.98 235.57 L250.81 235.57 L251.64 235.58 L252.47 235.59 L253.30 235.60 L254.13 235.61 L254.96 235.63 L255.79 235.65 L256.62 235.67 L257.45 235.69 L258.28 235.72 L259.11 235.74 L259.94 235.78 L260.77 235.81 L261.60 235.85 L262.43 235.89 L263.26 235.94 L264.09 235.99 L264.92 236.05 L265.75 236.11 L266.57 236.18 L267.40 236.25 L268.23 236.33 L269.06 236.41 L269.88 236.50 L270.71 236.60 L271.54 236.71 L272.36 236.82 L273.19 236.94 L274.01 237.07 L274.84 237.21 L275.66 237.37 L276.47 237.54 L277.29 237.72 L278.09 237.92 L278.89 238.15 L279.69 238.39 L280.47 238.66 L281.25 238.96 L282.01 239.28 L282.77 239.63 L283.51 240.01 L284.25 240.40 L284.97 240.83 L285.68 241.27 L286.37 241.73 L287.06 242.21 L287.73 242.72 L288.39 243.23 L289.03 243.77 L289.66 244.32 L290.27 244.88 L290.87 245.45 L291.46 246.04 L292.04 246.64 L292.61 247.25 L293.16 247.87 L293.71 248.50 L294.25 249.13 L294.77 249.78 L295.30 250.42 L295.81 251.08 L296.32 251.74 L296.83 252.40 L297.33 253.07 L297.82 253.74 L298.32 254.41 L298.81 255.08 L299.30 255.75 L299.78 256.42 L300.27 257.10 L300.75 257.77 L301.24 258.45 L301.72 259.12 L302.21 259.80 L302.69 260.47 L303.18 261.15 L303.66 261.82 L304.15 262.49 L304.64 263.16 L305.13 263.83 L305.63 264.50 L306.12 265.17 L306.63 265.83 L307.13 266.49 L307.65 267.14 L308.17 267.79 L308.70 268.43 L309.25 269.06 L309.80 269.68 L310.37 270.29 L310.95 270.88 L311.54 271.47 L312.16 272.04 L312.79 272.59 L313.44 273.12 L314.10 273.63 L314.78 274.12 L315.48 274.58 L316.20 275.00 L316.93 275.40 L317.68 275.76 L318.44 276.08 L319.22 276.36 L320.01 276.61 L320.81 276.83 L321.62 277.02 L322.44 277.19 L323.26 277.35 L324.09 277.48 L324.92 277.61 L325.74 277.72 L326.57 277.81 L327.40 277.87 L328.23 277.90 L329.05 277.89 L329.88 277.85 L330.71 277.77 L331.54 277.66 L332.36 277.53 L333.18 277.38 L334.00 277.21 L334.82 277.03 L335.63 276.83 L336.43 276.63 L337.24 276.41 L338.04 276.19 L338.84 275.96 L339.63 275.73 L340.43 275.49 L341.22 275.25 L342.02 275.01 L342.81 274.77 L343.60 274.53 L344.40 274.28 L345.19 274.05 L345.99 273.81 L346.79 273.57 L347.58 273.33 L348.38 273.10 L349.18 272.87 L349.98 272.63 L350.78 272.40 L351.58 272.17 L352.38 271.95 L353.18 271.72 L353.98 271.50 L354.78 271.28 L355.58 271.06 L356.39 270.85 L357.19 270.64 L358.00 270.44 L358.81 270.24 L359.61 270.05 L360.43 269.86 L361.24 269.69 L362.05 269.52 L362.87 269.36 L363.68 269.21 L364.50 269.07 L365.32 268.94 L366.14 268.82 L366.97 268.71 L367.79 268.60 L368.62 268.50 L369.44 268.41 L370.27 268.33 L371.10 268.25 L371.93 268.17 L372.76 268.10 L373.59 268.04 L374.42 267.98 L375.25 267.92 L376.08 267.86 L376.91 267.81 L377.74 267.76 L378.57 267.71 L379.40 267.66 L380.23 267.62 L381.06 267.58 L381.89 267.54 L382.72 267.50 L383.55 267.47 L384.38 267.44 L385.21 267.40 L386.04 267.37 L386.87 267.35 L387.70 267.32 L388.53 267.29 L389.36 267.27 L390.19 267.25 L391.02 267.22 L391.85 267.20 L392.68 267.18 L393.51 267.17 L394.34 267.15 L395.17 267.13 L396.00 267.11 L396.83 267.10 L397.66 267.08 L398.50 267.07 L399.33 267.06 L400.16 267.05 L400.99 267.04 L401.82 267.03 L402.65 267.02 L403.48 267.01 L404.31 267.00 L405.14 266.99 L405.97 266.98 L406.80 266.98 L407.63 266.97 L408.47 266.97 L409.30 266.96 L410.13 266.96 L410.96 266.96 L411.79 266.95 L412.62 266.95 L413.45 266.95 L414.28 266.95 L415.11 266.95 L415.94 266.95 L416.78 266.95 L417.61 266.95 L418.44 266.95 L419.27 266.95 L420.10 266.95 L420.93 266.95 L421.76 266.95 L422.59 266.96 L423.43 266.96 L424.26 266.96 L425.09 266.96 L425.92 266.97 L426.75 266.97 L427.58 266.97 L428.41 266.98 L429.24 266.98 L430.07 266.98 L430.91 266.99 L431.74 266.99 L432.57 267.00 L433.40 267.00" fill="none" stroke="#ee1c25" stroke-width="1.35" stroke-linejoin="round" clip-path="url(#kd)"/>
<path d="M240.00 299.00 L240.83 299.00 L241.66 298.99 L242.49 298.99 L243.32 298.99 L244.15 298.98 L244.98 298.98 L245.81 298.98 L246.64 298.97 L247.47 298.97 L248.30 298.97 L249.13 298.97 L249.96 298.96 L250.79 298.96 L251.62 298.96 L252.46 298.96 L253.29 298.96 L254.12 298.95 L254.95 298.95 L255.78 298.95 L256.61 298.95 L257.44 298.95 L258.27 298.95 L259.10 298.95 L259.93 298.95 L260.76 298.95 L261.59 298.96 L262.42 298.96 L263.25 298.96 L264.08 298.96 L264.92 298.96 L265.75 298.97 L266.58 298.97 L267.41 298.98 L268.24 298.98 L269.07 298.99 L269.90 298.99 L270.73 299.00 L271.56 299.01 L272.40 299.01 L273.23 299.02 L274.06 299.03 L274.89 299.05 L275.72 299.06 L276.55 299.08 L277.38 299.09 L278.21 299.12 L279.04 299.14 L279.87 299.17 L280.70 299.20 L281.53 299.23 L282.36 299.27 L283.19 299.32 L284.02 299.37 L284.85 299.42 L285.68 299.48 L286.51 299.54 L287.33 299.61 L288.16 299.69 L288.99 299.77 L289.81 299.86 L290.64 299.96 L291.46 300.06 L292.29 300.17 L293.11 300.29 L293.93 300.42 L294.75 300.56 L295.57 300.71 L296.38 300.87 L297.20 301.04 L298.01 301.21 L298.83 301.40 L299.64 301.61 L300.44 301.82 L301.24 302.05 L302.04 302.30 L302.83 302.56 L303.61 302.84 L304.38 303.14 L305.15 303.46 L305.91 303.80 L306.65 304.16 L307.39 304.53 L308.12 304.93 L308.84 305.35 L309.55 305.77 L310.26 306.21 L310.96 306.67 L311.65 307.13 L312.34 307.60 L313.03 308.08 L313.71 308.56 L314.38 309.05 L315.06 309.54 L315.73 310.03 L316.40 310.52 L317.06 311.01 L317.73 311.51 L318.39 312.01 L319.06 312.51 L319.72 313.01 L320.38 313.51 L321.04 314.01 L321.71 314.51 L322.37 315.00 L323.04 315.50 L323.70 316.00 L324.37 316.49 L325.04 316.98 L325.71 317.47 L326.39 317.95 L327.07 318.43 L327.75 318.91 L328.44 319.38 L329.13 319.84 L329.82 320.29 L330.52 320.74 L331.23 321.18 L331.94 321.61 L332.65 322.04 L333.37 322.45 L334.10 322.86 L334.83 323.25 L335.57 323.64 L336.31 324.02 L337.05 324.38 L337.81 324.74 L338.56 325.08 L339.32 325.42 L340.09 325.74 L340.86 326.05 L341.64 326.35 L342.42 326.64 L343.20 326.91 L343.99 327.17 L344.79 327.42 L345.58 327.66 L346.38 327.89 L347.19 328.10 L347.99 328.30 L348.80 328.49 L349.61 328.66 L350.43 328.83 L351.25 328.98 L352.06 329.13 L352.88 329.26 L353.71 329.39 L354.53 329.50 L355.36 329.61 L356.18 329.71 L357.01 329.80 L357.83 329.89 L358.66 329.96 L359.49 330.04 L360.32 330.10 L361.15 330.16 L361.98 330.22 L362.80 330.27 L363.63 330.31 L364.46 330.36 L365.29 330.39 L366.12 330.43 L366.95 330.46 L367.78 330.49 L368.61 330.52 L369.45 330.54 L370.28 330.57 L371.11 330.59 L371.94 330.61 L372.77 330.64 L373.60 330.66 L374.43 330.68 L375.26 330.70 L376.09 330.72 L376.92 330.74 L377.75 330.76 L378.58 330.78 L379.41 330.79 L380.24 330.81 L381.07 330.83 L381.90 330.85 L382.73 330.86 L383.56 330.88 L384.39 330.89 L385.22 330.91 L386.06 330.92 L386.89 330.93 L387.72 330.94 L388.55 330.96 L389.38 330.97 L390.21 330.98 L391.04 330.99 L391.87 331.00 L392.70 331.01 L393.53 331.02 L394.36 331.02 L395.19 331.03 L396.02 331.04 L396.85 331.05 L397.68 331.05 L398.51 331.06 L399.34 331.06 L400.17 331.07 L401.00 331.07 L401.83 331.07 L402.67 331.08 L403.50 331.08 L404.33 331.08 L405.16 331.08 L405.99 331.09 L406.82 331.09 L407.65 331.09 L408.48 331.09 L409.31 331.09 L410.14 331.09 L410.97 331.09 L411.80 331.09 L412.63 331.09 L413.46 331.09 L414.29 331.08 L415.12 331.08 L415.96 331.08 L416.79 331.08 L417.62 331.08 L418.45 331.07 L419.28 331.07 L420.11 331.07 L420.94 331.06 L421.77 331.06 L422.60 331.06 L423.43 331.05 L424.26 331.05 L425.09 331.04 L425.92 331.04 L426.75 331.04 L427.59 331.03 L428.42 331.03 L429.25 331.02 L430.08 331.02 L430.91 331.01 L431.74 331.01 L432.57 331.00 L433.40 331.00" fill="none" stroke="#ee1c25" stroke-width="1.35" stroke-linejoin="round" clip-path="url(#kd)"/>
<text x="298.7" y="225" font-size="15.5" text-anchor="start" fill="#2b2b2b">(d)</text>
<text x="325" y="225" font-size="15.5" font-style="italic" text-anchor="start" fill="#2b2b2b" textLength="41.6" lengthAdjust="spacingAndGlyphs">BBX,</text>
<text x="370" y="225" font-size="15.5" font-style="italic" text-anchor="start" fill="#2b2b2b" textLength="9.4" lengthAdjust="spacingAndGlyphs">J</text>
<text x="379.8" y="217.8" font-size="11.5" text-anchor="start" fill="#2b2b2b" textLength="7.2" lengthAdjust="spacingAndGlyphs">π</text>
<text x="391.7" y="225.4" font-size="15.5" text-anchor="start" fill="#2b2b2b" textLength="12.4" lengthAdjust="spacingAndGlyphs">=</text>
<text x="408" y="225" font-size="15.5" text-anchor="start" fill="#2b2b2b">3</text>
<text x="415.5" y="221" font-size="16" text-anchor="start" fill="#2b2b2b">−</text>
<text x="321.2" y="269.3" font-size="15.5" font-style="italic" text-anchor="start" fill="#2b2b2b">p</text>
<text x="329.5" y="271.1" font-size="11" text-anchor="start" fill="#2b2b2b">1</text>
<text x="270.9" y="311.7" font-size="15.5" font-style="italic" text-anchor="start" fill="#2b2b2b">p</text>
<text x="279.2" y="313.5" font-size="11" text-anchor="start" fill="#2b2b2b">0</text>
<path d="M527.59 361.5L527.59 359.35M527.59 203.1L527.59 205.25M534.37 361.5L534.37 359.35M534.37 203.1L534.37 205.25M539.18 361.5L539.18 359.35M539.18 203.1L539.18 205.25M542.91 361.5L542.91 359.35M542.91 203.1L542.91 205.25M545.96 361.5L545.96 359.35M545.96 203.1L545.96 205.25M548.54 361.5L548.54 359.35M548.54 203.1L548.54 205.25M550.77 361.5L550.77 359.35M550.77 203.1L550.77 205.25M552.74 361.5L552.74 359.35M552.74 203.1L552.74 205.25M554.5 361.5L554.5 357.1M554.5 203.1L554.5 207.5M566.09 361.5L566.09 359.35M566.09 203.1L566.09 205.25M572.87 361.5L572.87 359.35M572.87 203.1L572.87 205.25M577.68 361.5L577.68 359.35M577.68 203.1L577.68 205.25M581.41 361.5L581.41 359.35M581.41 203.1L581.41 205.25M584.46 361.5L584.46 359.35M584.46 203.1L584.46 205.25M587.04 361.5L587.04 359.35M587.04 203.1L587.04 205.25M589.27 361.5L589.27 359.35M589.27 203.1L589.27 205.25M591.24 361.5L591.24 359.35M591.24 203.1L591.24 205.25M593 361.5L593 357.1M593 203.1L593 207.5M604.59 361.5L604.59 359.35M604.59 203.1L604.59 205.25M611.37 361.5L611.37 359.35M611.37 203.1L611.37 205.25M616.18 361.5L616.18 359.35M616.18 203.1L616.18 205.25M619.91 361.5L619.91 359.35M619.91 203.1L619.91 205.25M622.96 361.5L622.96 359.35M622.96 203.1L622.96 205.25M625.54 361.5L625.54 359.35M625.54 203.1L625.54 205.25M627.77 361.5L627.77 359.35M627.77 203.1L627.77 205.25M629.74 361.5L629.74 359.35M629.74 203.1L629.74 205.25M631.5 361.5L631.5 357.1M631.5 203.1L631.5 207.5M643.09 361.5L643.09 359.35M643.09 203.1L643.09 205.25M649.87 361.5L649.87 359.35M649.87 203.1L649.87 205.25M654.68 361.5L654.68 359.35M654.68 203.1L654.68 205.25M658.41 361.5L658.41 359.35M658.41 203.1L658.41 205.25M661.46 361.5L661.46 359.35M661.46 203.1L661.46 205.25M664.04 361.5L664.04 359.35M664.04 203.1L664.04 205.25M666.27 361.5L666.27 359.35M666.27 203.1L666.27 205.25M668.24 361.5L668.24 359.35M668.24 203.1L668.24 205.25M670 361.5L670 357.1M670 203.1L670 207.5M681.59 361.5L681.59 359.35M681.59 203.1L681.59 205.25M688.37 361.5L688.37 359.35M688.37 203.1L688.37 205.25M693.18 361.5L693.18 359.35M693.18 203.1L693.18 205.25M696.91 361.5L696.91 359.35M696.91 203.1L696.91 205.25M699.96 361.5L699.96 359.35M699.96 203.1L699.96 205.25M702.54 361.5L702.54 359.35M702.54 203.1L702.54 205.25M704.77 361.5L704.77 359.35M704.77 203.1L704.77 205.25M706.74 361.5L706.74 359.35M706.74 203.1L706.74 205.25M516 234.7L520.4 234.7M708.5 234.7L704.1 234.7M516 298.2L520.4 298.2M708.5 298.2L704.1 298.2M516 329.95L518.15 329.95M708.5 329.95L706.35 329.95M516 298.2L518.15 298.2M708.5 298.2L706.35 298.2M516 266.45L518.15 266.45M708.5 266.45L706.35 266.45M516 234.7L518.15 234.7M708.5 234.7L706.35 234.7" stroke="#000" stroke-width="1.15" fill="none"/>
<rect x="516" y="203.1" width="192.5" height="158.4" fill="none" stroke="#000" stroke-width="1.4"/>
<text x="508.4" y="240.5" font-size="14" text-anchor="end" fill="#000">6</text>
<text x="508.4" y="304" font-size="14" text-anchor="end" fill="#000">4</text>
<path d="M516.00 234.80 L516.83 234.80 L517.67 234.81 L518.50 234.81 L519.33 234.82 L520.16 234.82 L521.00 234.83 L521.83 234.83 L522.66 234.84 L523.50 234.84 L524.33 234.85 L525.16 234.85 L525.99 234.86 L526.83 234.87 L527.66 234.88 L528.49 234.88 L529.33 234.89 L530.16 234.90 L530.99 234.91 L531.82 234.92 L532.66 234.93 L533.49 234.95 L534.32 234.96 L535.15 234.97 L535.99 234.99 L536.82 235.01 L537.65 235.02 L538.48 235.04 L539.32 235.06 L540.15 235.09 L540.98 235.11 L541.81 235.14 L542.65 235.18 L543.48 235.21 L544.31 235.26 L545.14 235.30 L545.97 235.35 L546.80 235.41 L547.63 235.48 L548.46 235.55 L549.30 235.63 L550.13 235.71 L550.96 235.81 L551.78 235.91 L552.61 236.02 L553.44 236.15 L554.26 236.29 L555.08 236.44 L555.90 236.61 L556.71 236.80 L557.52 237.01 L558.32 237.25 L559.11 237.50 L559.89 237.79 L560.67 238.10 L561.44 238.43 L562.19 238.79 L562.94 239.17 L563.67 239.57 L564.40 239.99 L565.11 240.44 L565.80 240.90 L566.49 241.38 L567.16 241.89 L567.81 242.41 L568.45 242.94 L569.07 243.50 L569.68 244.07 L570.28 244.65 L570.86 245.24 L571.43 245.85 L572.00 246.47 L572.55 247.10 L573.09 247.73 L573.62 248.38 L574.14 249.03 L574.66 249.69 L575.17 250.36 L575.67 251.03 L576.16 251.70 L576.65 252.37 L577.14 253.05 L577.62 253.73 L578.10 254.42 L578.58 255.10 L579.05 255.78 L579.52 256.47 L580.00 257.15 L580.47 257.84 L580.95 258.52 L581.42 259.20 L581.90 259.88 L582.38 260.56 L582.87 261.24 L583.36 261.91 L583.86 262.58 L584.36 263.24 L584.87 263.90 L585.38 264.55 L585.90 265.20 L586.43 265.84 L586.97 266.48 L587.51 267.11 L588.06 267.74 L588.63 268.36 L589.19 268.97 L589.77 269.57 L590.36 270.16 L590.96 270.75 L591.57 271.32 L592.19 271.89 L592.82 272.43 L593.47 272.96 L594.13 273.47 L594.80 273.96 L595.49 274.42 L596.20 274.86 L596.93 275.27 L597.67 275.66 L598.43 276.02 L599.20 276.34 L599.98 276.64 L600.77 276.91 L601.57 277.14 L602.38 277.34 L603.20 277.51 L604.03 277.65 L604.85 277.75 L605.68 277.83 L606.52 277.88 L607.35 277.90 L608.19 277.89 L609.02 277.86 L609.85 277.81 L610.68 277.73 L611.51 277.63 L612.34 277.52 L613.16 277.38 L613.98 277.23 L614.80 277.06 L615.61 276.87 L616.42 276.68 L617.23 276.47 L618.03 276.25 L618.83 276.02 L619.63 275.79 L620.43 275.55 L621.22 275.30 L622.02 275.05 L622.81 274.80 L623.61 274.54 L624.40 274.29 L625.19 274.03 L625.99 273.77 L626.78 273.52 L627.57 273.26 L628.36 273.01 L629.16 272.76 L629.95 272.51 L630.75 272.27 L631.55 272.03 L632.35 271.79 L633.14 271.56 L633.95 271.33 L634.75 271.11 L635.55 270.89 L636.36 270.68 L637.17 270.47 L637.97 270.27 L638.78 270.07 L639.60 269.89 L640.41 269.70 L641.22 269.52 L642.04 269.35 L642.85 269.19 L643.67 269.03 L644.49 268.88 L645.31 268.73 L646.13 268.59 L646.95 268.46 L647.78 268.33 L648.60 268.21 L649.43 268.09 L650.25 267.98 L651.08 267.88 L651.91 267.78 L652.74 267.69 L653.56 267.60 L654.39 267.51 L655.22 267.43 L656.05 267.36 L656.88 267.29 L657.71 267.23 L658.54 267.17 L659.37 267.11 L660.21 267.06 L661.04 267.01 L661.87 266.96 L662.70 266.92 L663.53 266.88 L664.36 266.84 L665.20 266.81 L666.03 266.78 L666.86 266.75 L667.69 266.72 L668.53 266.69 L669.36 266.67 L670.19 266.65 L671.03 266.62 L671.86 266.60 L672.69 266.58 L673.52 266.56 L674.36 266.55 L675.19 266.53 L676.02 266.51 L676.85 266.50 L677.69 266.48 L678.52 266.46 L679.35 266.45 L680.19 266.44 L681.02 266.42 L681.85 266.41 L682.68 266.40 L683.52 266.39 L684.35 266.38 L685.18 266.36 L686.02 266.35 L686.85 266.35 L687.68 266.34 L688.51 266.33 L689.35 266.32 L690.18 266.31 L691.01 266.30 L691.85 266.30 L692.68 266.29 L693.51 266.28 L694.34 266.28 L695.18 266.27 L696.01 266.26 L696.84 266.26 L697.67 266.25 L698.51 266.25 L699.34 266.24 L700.17 266.24 L701.01 266.23 L701.84 266.23 L702.67 266.23 L703.50 266.22 L704.34 266.22 L705.17 266.21 L706.00 266.21 L706.83 266.21 L707.67 266.20 L708.50 266.20" fill="none" stroke="#ee1c25" stroke-width="1.35" stroke-linejoin="round" clip-path="url(#kg)"/>
<path d="M516.00 298.20 L516.83 298.19 L517.66 298.19 L518.49 298.18 L519.32 298.17 L520.16 298.16 L520.99 298.16 L521.82 298.15 L522.65 298.14 L523.48 298.13 L524.31 298.13 L525.14 298.12 L525.97 298.12 L526.81 298.11 L527.64 298.10 L528.47 298.10 L529.30 298.09 L530.13 298.09 L530.96 298.08 L531.79 298.08 L532.63 298.07 L533.46 298.07 L534.29 298.07 L535.12 298.06 L535.95 298.06 L536.78 298.06 L537.61 298.06 L538.45 298.06 L539.28 298.06 L540.11 298.06 L540.94 298.06 L541.77 298.06 L542.60 298.06 L543.44 298.06 L544.27 298.07 L545.10 298.07 L545.93 298.07 L546.76 298.08 L547.60 298.08 L548.43 298.09 L549.26 298.10 L550.09 298.10 L550.92 298.11 L551.76 298.12 L552.59 298.13 L553.42 298.14 L554.25 298.15 L555.09 298.17 L555.92 298.18 L556.75 298.19 L557.58 298.21 L558.42 298.23 L559.25 298.24 L560.08 298.26 L560.91 298.29 L561.75 298.31 L562.58 298.34 L563.41 298.37 L564.24 298.41 L565.07 298.46 L565.90 298.50 L566.73 298.56 L567.56 298.62 L568.39 298.69 L569.22 298.76 L570.04 298.85 L570.87 298.94 L571.70 299.04 L572.52 299.15 L573.34 299.27 L574.17 299.39 L574.99 299.53 L575.81 299.68 L576.62 299.84 L577.44 300.01 L578.25 300.19 L579.06 300.39 L579.87 300.59 L580.67 300.81 L581.48 301.03 L582.27 301.27 L583.07 301.53 L583.86 301.79 L584.64 302.07 L585.43 302.37 L586.20 302.67 L586.97 303.00 L587.73 303.33 L588.48 303.68 L589.23 304.05 L589.97 304.44 L590.70 304.83 L591.42 305.25 L592.13 305.67 L592.84 306.11 L593.54 306.56 L594.23 307.02 L594.92 307.48 L595.61 307.95 L596.29 308.43 L596.98 308.91 L597.66 309.39 L598.34 309.87 L599.02 310.35 L599.70 310.83 L600.38 311.30 L601.06 311.78 L601.74 312.26 L602.43 312.73 L603.11 313.21 L603.79 313.68 L604.48 314.15 L605.16 314.62 L605.85 315.09 L606.54 315.56 L607.22 316.03 L607.92 316.49 L608.61 316.95 L609.30 317.41 L610.00 317.86 L610.71 318.31 L611.41 318.75 L612.12 319.18 L612.84 319.61 L613.56 320.02 L614.28 320.43 L615.01 320.82 L615.75 321.20 L616.50 321.58 L617.24 321.94 L618.00 322.29 L618.75 322.64 L619.52 322.97 L620.28 323.30 L621.05 323.61 L621.83 323.92 L622.60 324.23 L623.38 324.52 L624.17 324.81 L624.95 325.09 L625.74 325.36 L626.53 325.63 L627.32 325.88 L628.12 326.13 L628.91 326.36 L629.71 326.59 L630.52 326.81 L631.32 327.01 L632.13 327.21 L632.94 327.39 L633.76 327.56 L634.57 327.72 L635.39 327.86 L636.21 328.00 L637.03 328.13 L637.85 328.24 L638.68 328.35 L639.51 328.46 L640.33 328.55 L641.16 328.64 L641.99 328.72 L642.82 328.79 L643.65 328.86 L644.48 328.93 L645.31 328.99 L646.14 329.05 L646.98 329.11 L647.81 329.16 L648.64 329.22 L649.47 329.26 L650.30 329.31 L651.13 329.35 L651.96 329.40 L652.79 329.43 L653.62 329.47 L654.45 329.51 L655.28 329.54 L656.11 329.57 L656.95 329.60 L657.78 329.63 L658.61 329.66 L659.44 329.68 L660.27 329.71 L661.10 329.73 L661.93 329.75 L662.76 329.77 L663.59 329.80 L664.42 329.81 L665.25 329.83 L666.09 329.85 L666.92 329.87 L667.75 329.89 L668.58 329.90 L669.41 329.92 L670.24 329.93 L671.07 329.95 L671.90 329.96 L672.74 329.98 L673.57 329.99 L674.40 330.00 L675.23 330.01 L676.06 330.02 L676.89 330.04 L677.72 330.05 L678.56 330.06 L679.39 330.07 L680.22 330.07 L681.05 330.08 L681.88 330.09 L682.71 330.10 L683.55 330.11 L684.38 330.11 L685.21 330.12 L686.04 330.13 L686.87 330.13 L687.70 330.14 L688.54 330.14 L689.37 330.15 L690.20 330.15 L691.03 330.15 L691.86 330.16 L692.69 330.16 L693.53 330.17 L694.36 330.17 L695.19 330.17 L696.02 330.17 L696.85 330.18 L697.69 330.18 L698.52 330.18 L699.35 330.18 L700.18 330.19 L701.01 330.19 L701.84 330.19 L702.68 330.19 L703.51 330.19 L704.34 330.19 L705.17 330.20 L706.00 330.20 L706.84 330.20 L707.67 330.20 L708.50 330.20" fill="none" stroke="#ee1c25" stroke-width="1.35" stroke-linejoin="round" clip-path="url(#kg)"/>
<text x="577.2" y="225" font-size="15.5" text-anchor="start" fill="#2b2b2b">(g)</text>
<text x="602" y="225" font-size="15.5" font-style="italic" text-anchor="start" fill="#2b2b2b" textLength="40.6" lengthAdjust="spacingAndGlyphs">FFX,</text>
<text x="647" y="225" font-size="15.5" font-style="italic" text-anchor="start" fill="#2b2b2b" textLength="9.4" lengthAdjust="spacingAndGlyphs">J</text>
<text x="656.8" y="217.8" font-size="11.5" text-anchor="start" fill="#2b2b2b" textLength="7.2" lengthAdjust="spacingAndGlyphs">π</text>
<text x="668.7" y="225.4" font-size="15.5" text-anchor="start" fill="#2b2b2b" textLength="12.4" lengthAdjust="spacingAndGlyphs">=</text>
<text x="685" y="225" font-size="15.5" text-anchor="start" fill="#2b2b2b">2</text>
<text x="692.5" y="221" font-size="16" text-anchor="start" fill="#2b2b2b">+</text>
<text x="606.8" y="267.7" font-size="15.5" font-style="italic" text-anchor="start" fill="#2b2b2b">p</text>
<text x="615.1" y="269.5" font-size="11" text-anchor="start" fill="#2b2b2b">1</text>
<text x="579.7" y="322" font-size="15.5" font-style="italic" text-anchor="start" fill="#2b2b2b">p</text>
<text x="588" y="323.8" font-size="11" text-anchor="start" fill="#2b2b2b">0</text>
<path d="M750.99 361.5L750.99 359.35M750.99 203.1L750.99 205.25M757.77 361.5L757.77 359.35M757.77 203.1L757.77 205.25M762.58 361.5L762.58 359.35M762.58 203.1L762.58 205.25M766.31 361.5L766.31 359.35M766.31 203.1L766.31 205.25M769.36 361.5L769.36 359.35M769.36 203.1L769.36 205.25M771.94 361.5L771.94 359.35M771.94 203.1L771.94 205.25M774.17 361.5L774.17 359.35M774.17 203.1L774.17 205.25M776.14 361.5L776.14 359.35M776.14 203.1L776.14 205.25M777.9 361.5L777.9 357.1M777.9 203.1L777.9 207.5M789.49 361.5L789.49 359.35M789.49 203.1L789.49 205.25M796.27 361.5L796.27 359.35M796.27 203.1L796.27 205.25M801.08 361.5L801.08 359.35M801.08 203.1L801.08 205.25M804.81 361.5L804.81 359.35M804.81 203.1L804.81 205.25M807.86 361.5L807.86 359.35M807.86 203.1L807.86 205.25M810.44 361.5L810.44 359.35M810.44 203.1L810.44 205.25M812.67 361.5L812.67 359.35M812.67 203.1L812.67 205.25M814.64 361.5L814.64 359.35M814.64 203.1L814.64 205.25M816.4 361.5L816.4 357.1M816.4 203.1L816.4 207.5M827.99 361.5L827.99 359.35M827.99 203.1L827.99 205.25M834.77 361.5L834.77 359.35M834.77 203.1L834.77 205.25M839.58 361.5L839.58 359.35M839.58 203.1L839.58 205.25M843.31 361.5L843.31 359.35M843.31 203.1L843.31 205.25M846.36 361.5L846.36 359.35M846.36 203.1L846.36 205.25M848.94 361.5L848.94 359.35M848.94 203.1L848.94 205.25M851.17 361.5L851.17 359.35M851.17 203.1L851.17 205.25M853.14 361.5L853.14 359.35M853.14 203.1L853.14 205.25M854.9 361.5L854.9 357.1M854.9 203.1L854.9 207.5M866.49 361.5L866.49 359.35M866.49 203.1L866.49 205.25M873.27 361.5L873.27 359.35M873.27 203.1L873.27 205.25M878.08 361.5L878.08 359.35M878.08 203.1L878.08 205.25M881.81 361.5L881.81 359.35M881.81 203.1L881.81 205.25M884.86 361.5L884.86 359.35M884.86 203.1L884.86 205.25M887.44 361.5L887.44 359.35M887.44 203.1L887.44 205.25M889.67 361.5L889.67 359.35M889.67 203.1L889.67 205.25M891.64 361.5L891.64 359.35M891.64 203.1L891.64 205.25M893.4 361.5L893.4 357.1M893.4 203.1L893.4 207.5M904.99 361.5L904.99 359.35M904.99 203.1L904.99 205.25M911.77 361.5L911.77 359.35M911.77 203.1L911.77 205.25M916.58 361.5L916.58 359.35M916.58 203.1L916.58 205.25M920.31 361.5L920.31 359.35M920.31 203.1L920.31 205.25M923.36 361.5L923.36 359.35M923.36 203.1L923.36 205.25M925.94 361.5L925.94 359.35M925.94 203.1L925.94 205.25M928.17 361.5L928.17 359.35M928.17 203.1L928.17 205.25M930.14 361.5L930.14 359.35M930.14 203.1L930.14 205.25M739.4 241.78L743.8 241.78M931.9 241.78L927.5 241.78M739.4 281.59L743.8 281.59M931.9 281.59L927.5 281.59M739.4 321.4L743.8 321.4M931.9 321.4L927.5 321.4M739.4 347.94L741.55 347.94M931.9 347.94L929.75 347.94M739.4 334.67L741.55 334.67M931.9 334.67L929.75 334.67M739.4 321.4L741.55 321.4M931.9 321.4L929.75 321.4M739.4 308.13L741.55 308.13M931.9 308.13L929.75 308.13M739.4 294.86L741.55 294.86M931.9 294.86L929.75 294.86M739.4 281.59L741.55 281.59M931.9 281.59L929.75 281.59M739.4 268.32L741.55 268.32M931.9 268.32L929.75 268.32M739.4 255.05L741.55 255.05M931.9 255.05L929.75 255.05M739.4 241.78L741.55 241.78M931.9 241.78L929.75 241.78M739.4 228.51L741.55 228.51M931.9 228.51L929.75 228.51M739.4 215.24L741.55 215.24M931.9 215.24L929.75 215.24" stroke="#000" stroke-width="1.15" fill="none"/>
<rect x="739.4" y="203.1" width="192.5" height="158.4" fill="none" stroke="#000" stroke-width="1.4"/>
<text x="733.5" y="247.68" font-size="14" text-anchor="end" fill="#000">6</text>
<text x="733.5" y="287.49" font-size="14" text-anchor="end" fill="#000">3</text>
<text x="733.5" y="327.3" font-size="14" text-anchor="end" fill="#000">0</text>
<path d="M744 321.4H931.9" stroke="#1a1a1a" stroke-width="1.25" stroke-dasharray="3.3 1.25" fill="none"/>
<path d="M782.6 361.5V203.1" stroke="#00a651" stroke-width="1.25" stroke-dasharray="3.3 2" fill="none"/>
<path d="M739.00 252.00 L739.83 251.91 L740.65 251.82 L741.48 251.73 L742.30 251.64 L743.13 251.55 L743.96 251.46 L744.78 251.37 L745.61 251.27 L746.43 251.18 L747.26 251.08 L748.08 250.98 L748.91 250.88 L749.73 250.78 L750.56 250.68 L751.38 250.57 L752.20 250.46 L753.02 250.34 L753.85 250.23 L754.67 250.11 L755.49 249.99 L756.31 249.86 L757.13 249.73 L757.95 249.60 L758.77 249.46 L759.59 249.33 L760.41 249.19 L761.23 249.04 L762.04 248.90 L762.86 248.76 L763.68 248.61 L764.50 248.46 L765.31 248.31 L766.13 248.17 L766.95 248.02 L767.77 247.87 L768.58 247.72 L769.40 247.57 L770.22 247.42 L771.04 247.28 L771.86 247.13 L772.67 246.99 L773.49 246.84 L774.31 246.70 L775.13 246.56 L775.95 246.42 L776.76 246.28 L777.58 246.13 L778.40 245.99 L779.22 245.85 L780.04 245.72 L780.86 245.58 L781.68 245.44 L782.50 245.30 L783.32 245.16 L784.13 245.03 L784.95 244.89 L785.77 244.75 L786.59 244.61 L787.41 244.48 L788.23 244.34 L789.05 244.20 L789.87 244.06 L790.69 243.93 L791.51 243.79 L792.33 243.65 L793.14 243.51 L793.96 243.37 L794.78 243.23 L795.60 243.09 L796.42 242.94 L797.24 242.80 L798.05 242.66 L798.87 242.51 L799.69 242.36 L800.51 242.22 L801.32 242.07 L802.14 241.92 L802.96 241.77 L803.78 241.62 L804.59 241.46 L805.41 241.31 L806.23 241.16 L807.04 241.01 L807.86 240.86 L808.68 240.71 L809.49 240.56 L810.31 240.42 L811.13 240.27 L811.95 240.13 L812.77 239.99 L813.59 239.85 L814.40 239.71 L815.22 239.58 L816.04 239.45 L816.87 239.32 L817.69 239.20 L818.51 239.08 L819.33 238.96 L820.15 238.85 L820.98 238.74 L821.80 238.64 L822.63 238.54 L823.45 238.44 L824.28 238.35 L825.10 238.27 L825.93 238.18 L826.76 238.11 L827.59 238.03 L828.41 237.97 L829.24 237.90 L830.07 237.85 L830.90 237.80 L831.73 237.75 L832.56 237.72 L833.39 237.70 L834.22 237.69 L835.06 237.69 L835.88 237.71 L836.71 237.75 L837.54 237.80 L838.37 237.86 L839.20 237.93 L840.03 238.02 L840.85 238.12 L841.68 238.22 L842.50 238.33 L843.33 238.45 L844.15 238.57 L844.97 238.69 L845.79 238.82 L846.61 238.94 L847.43 239.07 L848.25 239.21 L849.07 239.34 L849.89 239.47 L850.71 239.60 L851.53 239.73 L852.35 239.85 L853.17 239.98 L854.00 240.10 L854.82 240.22 L855.64 240.33 L856.46 240.44 L857.29 240.54 L858.11 240.64 L858.94 240.74 L859.77 240.83 L860.59 240.92 L861.42 241.00 L862.25 241.08 L863.07 241.16 L863.90 241.23 L864.73 241.29 L865.56 241.35 L866.39 241.41 L867.22 241.46 L868.04 241.50 L868.87 241.54 L869.70 241.58 L870.53 241.61 L871.36 241.64 L872.19 241.67 L873.02 241.69 L873.85 241.71 L874.69 241.73 L875.52 241.74 L876.35 241.75 L877.18 241.76 L878.01 241.77 L878.84 241.78 L879.67 241.79 L880.50 241.79 L881.33 241.79 L882.16 241.80 L882.99 241.80 L883.83 241.80 L884.66 241.81 L885.49 241.81 L886.32 241.81 L887.15 241.81 L887.98 241.82 L888.81 241.82 L889.64 241.82 L890.47 241.82 L891.30 241.82 L892.13 241.83 L892.96 241.83 L893.80 241.83 L894.63 241.83 L895.46 241.83 L896.29 241.83 L897.12 241.83 L897.95 241.83 L898.78 241.83 L899.61 241.83 L900.44 241.83 L901.27 241.83 L902.10 241.83 L902.93 241.83 L903.76 241.83 L904.59 241.83 L905.42 241.83 L906.26 241.83 L907.09 241.83 L907.92 241.83 L908.75 241.83 L909.58 241.83 L910.41 241.83 L911.24 241.83 L912.07 241.83 L912.90 241.83 L913.73 241.83 L914.56 241.83 L915.39 241.83 L916.22 241.83 L917.05 241.82 L917.88 241.82 L918.71 241.82 L919.54 241.82 L920.37 241.82 L921.20 241.82 L922.03 241.82 L922.87 241.82 L923.70 241.81 L924.53 241.81 L925.36 241.81 L926.19 241.81 L927.02 241.81 L927.85 241.81 L928.68 241.81 L929.51 241.80 L930.34 241.80 L931.17 241.80 L932.00 241.80" fill="none" stroke="#ee1c25" stroke-width="1.35" stroke-linejoin="round" clip-path="url(#kh)"/>
<path d="M772.60 366.00 L772.86 365.21 L773.12 364.42 L773.38 363.63 L773.64 362.84 L773.90 362.05 L774.17 361.26 L774.43 360.47 L774.70 359.69 L774.97 358.90 L775.24 358.11 L775.51 357.33 L775.78 356.54 L776.04 355.75 L776.31 354.96 L776.56 354.17 L776.82 353.38 L777.07 352.58 L777.31 351.79 L777.55 350.99 L777.78 350.19 L778.00 349.39 L778.22 348.59 L778.44 347.78 L778.65 346.98 L778.85 346.17 L779.04 345.36 L779.24 344.55 L779.42 343.74 L779.60 342.93 L779.77 342.11 L779.94 341.30 L780.10 340.48 L780.26 339.67 L780.41 338.85 L780.56 338.03 L780.70 337.21 L780.83 336.39 L780.96 335.57 L781.09 334.74 L781.21 333.92 L781.32 333.10 L781.44 332.27 L781.54 331.45 L781.65 330.62 L781.75 329.80 L781.84 328.97 L781.94 328.14 L782.02 327.31 L782.11 326.49 L782.19 325.66 L782.26 324.83 L782.33 324.00 L782.39 323.17 L782.44 322.34 L782.49 321.51 L782.54 320.68 L782.58 319.85 L782.61 319.02 L782.65 318.18 L782.68 317.35 L782.72 316.52 L782.76 315.69 L782.81 314.86 L782.87 314.03 L782.94 313.20 L783.02 312.38 L783.12 311.55 L783.23 310.73 L783.36 309.90 L783.50 309.08 L783.66 308.26 L783.83 307.45 L784.02 306.64 L784.22 305.83 L784.43 305.02 L784.66 304.22 L784.90 303.42 L785.16 302.63 L785.43 301.84 L785.71 301.06 L786.00 300.28 L786.31 299.50 L786.63 298.74 L786.97 297.97 L787.32 297.22 L787.69 296.47 L788.07 295.73 L788.47 295.00 L788.88 294.27 L789.31 293.56 L789.75 292.85 L790.21 292.16 L790.68 291.47 L791.18 290.80 L791.68 290.14 L792.21 289.49 L792.75 288.86 L793.31 288.24 L793.88 287.64 L794.47 287.05 L795.08 286.47 L795.69 285.91 L796.32 285.37 L796.97 284.83 L797.62 284.32 L798.29 283.81 L798.96 283.32 L799.65 282.84 L800.34 282.37 L801.04 281.92 L801.75 281.48 L802.46 281.05 L803.18 280.63 L803.91 280.22 L804.64 279.83 L805.38 279.44 L806.12 279.06 L806.87 278.70 L807.62 278.34 L808.38 277.99 L809.14 277.65 L809.90 277.32 L810.67 277.00 L811.44 276.68 L812.21 276.37 L812.99 276.07 L813.77 275.77 L814.55 275.48 L815.33 275.20 L816.12 274.93 L816.91 274.67 L817.70 274.41 L818.49 274.16 L819.29 273.92 L820.09 273.68 L820.89 273.46 L821.69 273.24 L822.49 273.03 L823.30 272.83 L824.11 272.64 L824.92 272.45 L825.73 272.27 L826.55 272.10 L827.36 271.93 L828.18 271.78 L829.00 271.62 L829.82 271.48 L830.64 271.34 L831.46 271.21 L832.29 271.08 L833.11 270.96 L833.93 270.84 L834.76 270.73 L835.58 270.62 L836.41 270.52 L837.23 270.42 L838.06 270.33 L838.89 270.24 L839.72 270.16 L840.54 270.07 L841.37 270.00 L842.20 269.92 L843.03 269.85 L843.86 269.79 L844.69 269.72 L845.52 269.66 L846.35 269.60 L847.18 269.54 L848.01 269.49 L848.84 269.43 L849.67 269.38 L850.50 269.33 L851.33 269.28 L852.16 269.24 L852.99 269.19 L853.82 269.15 L854.65 269.11 L855.48 269.07 L856.31 269.03 L857.15 269.00 L857.98 268.96 L858.81 268.93 L859.64 268.90 L860.47 268.87 L861.30 268.84 L862.13 268.81 L862.96 268.79 L863.80 268.76 L864.63 268.74 L865.46 268.72 L866.29 268.70 L867.12 268.68 L867.95 268.66 L868.79 268.65 L869.62 268.63 L870.45 268.62 L871.28 268.61 L872.11 268.59 L872.94 268.58 L873.78 268.57 L874.61 268.56 L875.44 268.55 L876.27 268.55 L877.10 268.54 L877.93 268.53 L878.77 268.53 L879.60 268.52 L880.43 268.52 L881.26 268.52 L882.09 268.51 L882.92 268.51 L883.76 268.51 L884.59 268.51 L885.42 268.50 L886.25 268.50 L887.08 268.50 L887.92 268.50 L888.75 268.50 L889.58 268.50 L890.41 268.50 L891.24 268.50 L892.07 268.50 L892.91 268.50 L893.74 268.50 L894.57 268.50 L895.40 268.50 L896.23 268.50 L897.07 268.50 L897.90 268.50 L898.73 268.50 L899.56 268.50 L900.39 268.50 L901.22 268.50 L902.06 268.50 L902.89 268.50 L903.72 268.50 L904.55 268.50 L905.38 268.50 L906.22 268.50 L907.05 268.50 L907.88 268.50 L908.71 268.50 L909.54 268.50 L910.37 268.50 L911.21 268.50 L912.04 268.50 L912.87 268.50 L913.70 268.50 L914.53 268.50 L915.36 268.50 L916.20 268.50 L917.03 268.50 L917.86 268.50 L918.69 268.50 L919.52 268.50 L920.36 268.50 L921.19 268.50 L922.02 268.50 L922.85 268.50 L923.68 268.50 L924.51 268.50 L925.35 268.50 L926.18 268.50 L927.01 268.50 L927.84 268.50 L928.67 268.50 L929.50 268.50 L930.34 268.50 L931.17 268.50 L932.00 268.50" fill="none" stroke="#ee1c25" stroke-width="1.35" stroke-linejoin="round" clip-path="url(#kh)"/>
<text x="798.9" y="225" font-size="15.5" text-anchor="start" fill="#2b2b2b">(h)</text>
<text x="824.6" y="225" font-size="15.5" font-style="italic" text-anchor="start" fill="#2b2b2b" textLength="40.6" lengthAdjust="spacingAndGlyphs">FFX,</text>
<text x="869.6" y="225" font-size="15.5" font-style="italic" text-anchor="start" fill="#2b2b2b" textLength="9.4" lengthAdjust="spacingAndGlyphs">J</text>
<text x="879.4" y="217.8" font-size="11.5" text-anchor="start" fill="#2b2b2b" textLength="7.2" lengthAdjust="spacingAndGlyphs">π</text>
<text x="891.3" y="225.4" font-size="15.5" text-anchor="start" fill="#2b2b2b" textLength="12.4" lengthAdjust="spacingAndGlyphs">=</text>
<text x="907.6" y="225" font-size="15.5" text-anchor="start" fill="#2b2b2b">3</text>
<text x="915.1" y="221" font-size="16" text-anchor="start" fill="#2b2b2b">−</text>
<text x="754" y="240.2" font-size="15.5" font-style="italic" text-anchor="start" fill="#2b2b2b">s</text>
<text x="761.2" y="242" font-size="11" text-anchor="start" fill="#2b2b2b">1</text>
<text x="827.8" y="250.8" font-size="15.5" font-style="italic" text-anchor="start" fill="#2b2b2b">p</text>
<text x="836.1" y="252.6" font-size="11" text-anchor="start" fill="#2b2b2b">1</text>
<text x="750.1" y="336.4" font-size="15.5" text-anchor="start" fill="#2b2b2b" textLength="11.3" lengthAdjust="spacingAndGlyphs">−</text>
<text x="763" y="336.4" font-size="15.5" font-style="italic" text-anchor="start" fill="#2b2b2b">s</text>
<text x="770.2" y="338.2" font-size="11" text-anchor="start" fill="#2b2b2b">0</text>
<text x="794.9" y="344.2" font-size="17" font-style="italic" text-anchor="start" fill="#2b2b2b">δ</text>
<text x="802.9" y="338.8" font-size="12.5" text-anchor="start" fill="#2b2b2b">(3)</text>
<text x="802.8" y="348.8" font-size="11" font-style="italic" text-anchor="start" fill="#2b2b2b">c</text>
<text x="820.6" y="290.8" font-size="15.5" font-style="italic" text-anchor="start" fill="#2b2b2b">p</text>
<text x="828.9" y="292.6" font-size="11" text-anchor="start" fill="#2b2b2b">0</text>
<text x="52.5" y="378" font-size="14" text-anchor="middle" fill="#000">0.01</text>
<text x="131.5" y="378" font-size="14" text-anchor="middle" fill="#000">1</text>
<text x="207.3" y="378" font-size="14" text-anchor="middle" fill="#000">100</text>
<text x="276" y="378" font-size="14" text-anchor="middle" fill="#000">0.01</text>
<text x="355.2" y="378" font-size="14" text-anchor="middle" fill="#000">1</text>
<text x="431.4" y="378" font-size="14" text-anchor="middle" fill="#000">100</text>
<text x="551.8" y="377.6" font-size="14" text-anchor="middle" fill="#000">0.01</text>
<text x="630.2" y="377.6" font-size="14" text-anchor="middle" fill="#000">1</text>
<text x="706.5" y="377.6" font-size="14" text-anchor="middle" fill="#000">100</text>
<text x="775.4" y="377.6" font-size="14" text-anchor="middle" fill="#000">0.01</text>
<text x="854.6" y="377.6" font-size="14" text-anchor="middle" fill="#000">1</text>
<text x="930.7" y="377.6" font-size="14" text-anchor="middle" fill="#000">100</text>
<text x="54.7" y="402.9" font-size="17" font-style="italic" text-anchor="start" fill="#2b2b2b">δ</text>
<text x="61.6" y="405.4" font-size="11.8" font-style="italic" text-anchor="start" fill="#2b2b2b" textLength="20.7" lengthAdjust="spacingAndGlyphs">XB</text>
<text x="88.3" y="403.5" font-size="15.5" text-anchor="start" fill="#2b2b2b" textLength="12.2" lengthAdjust="spacingAndGlyphs">=</text>
<text x="105.8" y="402.9" font-size="15.5" font-style="italic" text-anchor="start" fill="#2b2b2b" textLength="14.2" lengthAdjust="spacingAndGlyphs">m</text>
<text x="120.7" y="405.4" font-size="11.8" font-style="italic" text-anchor="start" fill="#2b2b2b" textLength="8.6" lengthAdjust="spacingAndGlyphs">X</text>
<text x="130.3" y="406.2" font-size="22" text-anchor="start" fill="#2b2b2b" textLength="8.8" lengthAdjust="spacingAndGlyphs">/</text>
<text x="139.4" y="402.9" font-size="15.5" font-style="italic" text-anchor="start" fill="#2b2b2b" textLength="14.2" lengthAdjust="spacingAndGlyphs">m</text>
<text x="154.1" y="405.4" font-size="11.8" font-style="italic" text-anchor="start" fill="#2b2b2b" textLength="9" lengthAdjust="spacingAndGlyphs">B</text>
<text x="286.3" y="402.9" font-size="17" font-style="italic" text-anchor="start" fill="#2b2b2b">δ</text>
<text x="293.2" y="405.4" font-size="11.8" font-style="italic" text-anchor="start" fill="#2b2b2b" textLength="20.7" lengthAdjust="spacingAndGlyphs">XB</text>
<text x="319.9" y="403.5" font-size="15.5" text-anchor="start" fill="#2b2b2b" textLength="12.2" lengthAdjust="spacingAndGlyphs">=</text>
<text x="337.4" y="402.9" font-size="15.5" font-style="italic" text-anchor="start" fill="#2b2b2b" textLength="14.2" lengthAdjust="spacingAndGlyphs">m</text>
<text x="352.3" y="405.4" font-size="11.8" font-style="italic" text-anchor="start" fill="#2b2b2b" textLength="8.6" lengthAdjust="spacingAndGlyphs">X</text>
<text x="361.9" y="406.2" font-size="22" text-anchor="start" fill="#2b2b2b" textLength="8.8" lengthAdjust="spacingAndGlyphs">/</text>
<text x="371" y="402.9" font-size="15.5" font-style="italic" text-anchor="start" fill="#2b2b2b" textLength="14.2" lengthAdjust="spacingAndGlyphs">m</text>
<text x="385.7" y="405.4" font-size="11.8" font-style="italic" text-anchor="start" fill="#2b2b2b" textLength="9" lengthAdjust="spacingAndGlyphs">B</text>
<text x="558.8" y="402.9" font-size="17" font-style="italic" text-anchor="start" fill="#2b2b2b">δ</text>
<text x="565.7" y="405.4" font-size="11.8" font-style="italic" text-anchor="start" fill="#2b2b2b" textLength="20.7" lengthAdjust="spacingAndGlyphs">XF</text>
<text x="592.4" y="403.5" font-size="15.5" text-anchor="start" fill="#2b2b2b" textLength="12.2" lengthAdjust="spacingAndGlyphs">=</text>
<text x="609.9" y="402.9" font-size="15.5" font-style="italic" text-anchor="start" fill="#2b2b2b" textLength="14.2" lengthAdjust="spacingAndGlyphs">m</text>
<text x="624.8" y="405.4" font-size="11.8" font-style="italic" text-anchor="start" fill="#2b2b2b" textLength="8.6" lengthAdjust="spacingAndGlyphs">X</text>
<text x="634.4" y="406.2" font-size="22" text-anchor="start" fill="#2b2b2b" textLength="8.8" lengthAdjust="spacingAndGlyphs">/</text>
<text x="643.5" y="402.9" font-size="15.5" font-style="italic" text-anchor="start" fill="#2b2b2b" textLength="14.2" lengthAdjust="spacingAndGlyphs">m</text>
<text x="658.2" y="405.4" font-size="11.8" font-style="italic" text-anchor="start" fill="#2b2b2b" textLength="9" lengthAdjust="spacingAndGlyphs">F</text>
<text x="785" y="402.9" font-size="17" font-style="italic" text-anchor="start" fill="#2b2b2b">δ</text>
<text x="791.9" y="405.4" font-size="11.8" font-style="italic" text-anchor="start" fill="#2b2b2b" textLength="20.7" lengthAdjust="spacingAndGlyphs">XF</text>
<text x="818.6" y="403.5" font-size="15.5" text-anchor="start" fill="#2b2b2b" textLength="12.2" lengthAdjust="spacingAndGlyphs">=</text>
<text x="836.1" y="402.9" font-size="15.5" font-style="italic" text-anchor="start" fill="#2b2b2b" textLength="14.2" lengthAdjust="spacingAndGlyphs">m</text>
<text x="851" y="405.4" font-size="11.8" font-style="italic" text-anchor="start" fill="#2b2b2b" textLength="8.6" lengthAdjust="spacingAndGlyphs">X</text>
<text x="860.6" y="406.2" font-size="22" text-anchor="start" fill="#2b2b2b" textLength="8.8" lengthAdjust="spacingAndGlyphs">/</text>
<text x="869.7" y="402.9" font-size="15.5" font-style="italic" text-anchor="start" fill="#2b2b2b" textLength="14.2" lengthAdjust="spacingAndGlyphs">m</text>
<text x="884.4" y="405.4" font-size="11.8" font-style="italic" text-anchor="start" fill="#2b2b2b" textLength="9" lengthAdjust="spacingAndGlyphs">F</text>
</svg>
</body>
</html>
